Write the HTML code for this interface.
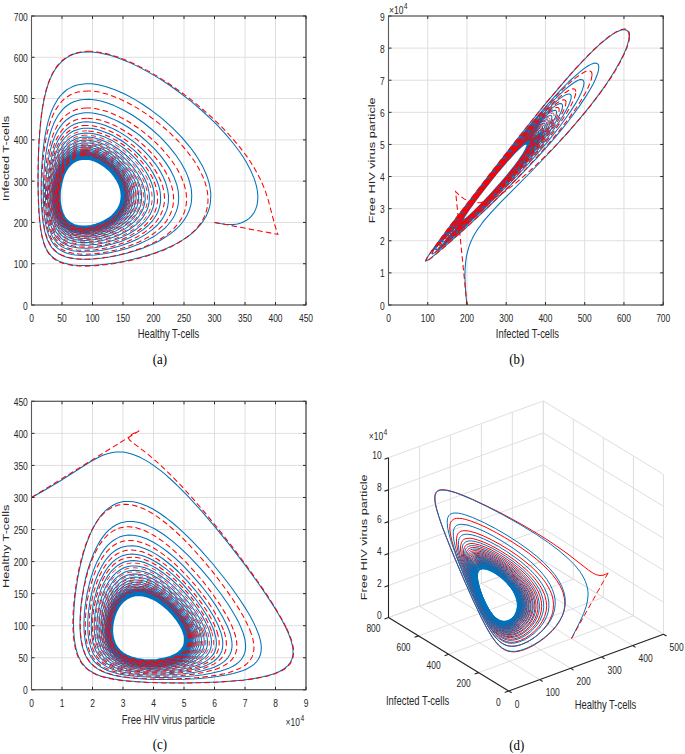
<!DOCTYPE html><html><head><meta charset="utf-8"><style>html,body{margin:0;padding:0;background:#fff}svg{display:block}</style></head><body>
<svg width="685" height="754" viewBox="0 0 685 754">
<rect width="685" height="754" fill="#fff"/>
<path d="M31.5 16V305M62 16V305M92.5 16V305M123 16V305M153.5 16V305M184 16V305M214.5 16V305M245 16V305M275.5 16V305M306 16V305M31.5 305H306M31.5 263.71H306M31.5 222.43H306M31.5 181.14H306M31.5 139.86H306M31.5 98.57H306M31.5 57.29H306M31.5 16H306" stroke="#dfdfdf" stroke-width="1" fill="none"/>
<g><path d="M214.5 222.4l5.5 1.2 5 .7 4.5 .3 4.2-.2 3.7-.5 3.4-.9 3-1.2 2.7-1.5 2.4-1.7 2.1-2 1.8-2.2 1.6-2.4 1.2-2.6 1-2.8 .7-3 .4-3.2 .1-3.3-.1-3.5-.5-3.6-.7-3.7-1.1-3.9-1.3-4-3.6-8.4-4.7-8.7-2.8-4.5-3-4.6-7-9.2-7.9-9.4-8.8-9.4-4.7-4.6-9.8-9.1-10.4-8.8-10.7-8.4-10.8-7.8-10.8-7.1-10.7-6.3-10.3-5.5-9.9-4.7-9.3-3.7-8.7-2.9-8.1-1.9-3.8-.7-7-.7-3.3-.1-6.1 .4-2.7 .5-5.2 1.3-4.5 2-4.1 2.4-3.5 2.9-3.1 3.2-2.8 3.6-2.4 3.8-2.1 4-1.8 4.1-1.6 4.3-2 6.6-2.1 9-1.6 8.9-1.5 11.1-1 10.8-.9 12.3-.6 15.4-.3 15.8 0 14.1 .4 12.6 .5 11.2 .9 9.8 1.1 8.6 1.3 6.7 1.7 6 2.1 5.1 2.3 4 2.4 2.9 2.3 2.2 3.2 2.3 3.2 1.6 4.4 1.7 4.2 1 4.9 .8 5.5 .5 6.2 .2 7.1-.2 7.9-.6 7-.7 9.5-1.4 8.2-1.5 8.7-1.9 6.9-1.8 7-2 7.2-2.3 7.3-2.7 4.9-2 7.1-3.4 4.7-2.5 4.6-2.7 4.4-2.9 4.1-3.2 4-3.5 5.2-5.6 3-4.1 2.6-4.4 2-4.7 .9-2.5 1.2-5.1 .3-2.7 .3-5.6-.1-2.8-.8-6-.7-3.1-1.8-6.3-1.2-3.2-3-6.6-1.8-3.4-4-6.7-2.2-3.4-5-6.8-8.6-10.1-9.6-9.8-10.4-9.2-10.9-8.4-7.4-5.1-7.3-4.6-10.7-5.8-10.3-4.6-9.6-3.3-6-1.4-5.6-.9-2.6-.3-5 0-4.6 .4-4.3 .8-1.9 .6-3.7 1.5-3.4 1.8-3 2.1-2.7 2.5-2.5 2.6-2.2 2.9-2.8 4.7-1.7 3.2-2.2 5.1-1.8 5.3-1.6 5.3-1.6 7.3-1.7 9-1.1 8.8-.9 8.6-.8 11.5-.4 10.8-.2 11.3 .2 10.3 .5 9.4 .6 7.4 .9 6.7 1.1 6.1 1.4 5.4 1.7 4.8 2.2 4.3 2.1 3.3 2.1 2.4 2.5 2.1 2.7 1.9 3.2 1.6 3.6 1.3 4.1 1.1 4.6 .7 4.1 .4 5.8 .2 5.1-.1 6.9-.4 6.1-.7 6.6-1 7-1.3 13.2-3.2 12-3.9 10.2-4.1 6.1-2.9 4-2.2 7.6-4.9 3.6-2.7 3.4-2.9 3.2-3.2 2.8-3.3 2.6-3.6 2.2-3.8 1.9-4 .7-2.2 1.2-4.3 .4-2.3 .4-4.7 0-2.5-.3-5-.4-2.6-1.3-5.2-.8-2.8-2-5.4-1.3-2.8-4.6-8.5-5.7-8.5-6.8-8.4-7.6-8.2-8.4-7.7-8.7-7-6-4.3-6-3.9-8.9-5.1-8.7-4.1-8.2-3.1-5.2-1.5-5-1-6.9-.7-4.2 .1-3.9 .4-3.6 .9-3.4 1.1-3.1 1.5-2.8 1.7-2.6 2-2.3 2.2-2.1 2.4-2.9 3.9-2.4 4.2-2.1 4.4-1.8 4.6-1.5 4.7-1.7 6.4-1.6 7.9-1.3 7.9-.9 7.7-.7 8.9-.5 8.5-.2 9.2 .1 8.6 .3 7.9 .5 7.3 .8 6.6 1.1 6 1.4 5.3 1.4 4.2 1.8 3.7 2 3.4 2 2.5 2.2 2.2 2.6 2 2.3 1.3 3.2 1.5 2.9 1 4.1 1 3.5 .5 5 .5 4.4 .1 9.9-.5 11.5-1.5 11.2-2.4 10.3-2.9 10.6-3.9 8.9-4.2 5.2-2.9 3.4-2.1 6.3-4.7 2.9-2.6 2.7-2.8 2.5-3 2.3-3.2 1.9-3.3 1.6-3.6 1.2-3.7 .9-3.9 .5-6.2-.4-6.5-1.5-6.9-2.6-7.1-3.5-7.2-4.6-7.3-5.4-7.2-6.2-7-6.8-6.6-7.2-6.3-5-3.8-5.1-3.5-7.6-4.7-5-2.7-5-2.4-7.2-2.8-4.5-1.4-4.4-1-4.2-.6-3.9-.3-3.8 0-3.4 .4-3.3 .7-3 .9-2.8 1.2-2.6 1.5-2.4 1.7-3.2 2.8-1.9 2.2-2.6 3.4-1.6 2.4-2 3.9-1.8 4-1.5 4.1-1.7 5.6-1.4 5.6-1.4 7.1-1 6.9-.9 8.1-.5 7.8-.3 7.3 0 8.1 .2 6.4 .5 7 .8 6.3 .9 5 1.3 5.2 1.5 4.1 1.6 3.7 2 3.3 2 2.4 1.7 1.8 2.4 2 2.2 1.4 3.1 1.5 2.7 1 3 .8 3.3 .6 7.4 .7 8.8-.2 10.1-1.1 9.9-1.9 10.6-3 9.5-3.5 7.9-3.6 7.6-4.5 5.7-4.2 5.2-4.7 2.3-2.6 2.1-2.8 1.8-2.9 1.6-3.1 1.4-3.2 1-3.4 .8-5.4 .1-5.7-.8-5.9-1.7-6.2-2.5-6.3-3.4-6.4-2.7-4.3-3-4.2-5.1-6.2-3.8-4-3.9-3.9-6.2-5.4-8.7-6.5-6.7-4.2-4.4-2.4-4.3-2.1-6.4-2.6-4-1.3-4-1-3.7-.7-3.6-.4-3.5-.1-3.2 .2-3 .5-2.8 .8-2.7 .9-3.6 1.9-2.2 1.5-3 2.5-1.8 1.9-2.5 3-3.4 5.6-1.7 3.6-1.5 3.7-1.7 5.1-1.4 5.1-1.1 5.1-1.1 6.4-.8 6.2-.7 7.3-.3 6.9-.1 6.6 .5 12 .6 6.2 .8 4.9 1.1 4.5 1.3 4.1 1.5 3.7 1.9 3.4 1.8 2.5 1.6 1.8 1.8 1.6 2 1.5 2.2 1.3 2.4 1.1 2.6 1 2.9 .8 6.6 1 7.7 .2 7.7-.5 8.6-1.4 9.3-2.2 8.5-2.7 8.6-3.6 7-3.7 6.7-4.5 4.9-4.1 4.3-4.7 1.9-2.6 1.7-2.7 1.5-2.8 1.2-3 1.3-4.7 .5-3.2 .1-3.4-.3-5.4-.6-3.6-1-3.7-2.1-5.7-2.9-5.8-3.5-5.8-4.2-5.6-6.4-7.3-5.3-5.1-7.6-6.1-5.8-4.1-7.9-4.6-5.8-2.7-7.5-2.7-3.5-.9-3.4-.7-3.3-.3-3.2-.1-2.9 .1-2.8 .4-2.7 .7-3.6 1.3-2.3 1.1-3.1 2.1-1.8 1.5-2.6 2.6-2.3 2.8-2 3-1.7 3.2-1.6 3.4-1.7 4.6-1.5 4.7-1.2 4.8-1.2 5.9-1.5 11.6-.6 11.9 0 6 .2 5.6 .5 5.3 .7 4.9 .9 4.6 1.2 4.1 1.4 3.8 1.7 3.4 2.7 3.9 3.4 3.4 2 1.4 2.2 1.2 2.3 1.1 2.6 .9 5.9 1.3 6 .4 6.9-.1 7.6-.9 8.3-1.7 9-2.6 7.8-3 6.6-3.2 6.3-3.9 5.8-4.6 4.2-4.2 3.5-4.7 1.5-2.5 1.3-2.7 1.5-4.2 .7-2.9 .4-3.1 .1-4.8-.3-3.3-.6-3.3-1.5-5.2-2.1-5.3-1.8-3.5-2-3.5-3.6-5.2-5.6-6.7-4.6-4.8-6.7-5.8-5.3-3.9-7.1-4.5-7.1-3.5-6.9-2.5-6.4-1.5-3.1-.4-4.3-.1-5.3 .6-2.4 .6-3.4 1.3-2.1 1.1-2.8 1.9-1.8 1.4-2.4 2.4-3.4 4.5-1.7 3-1.6 3.1-1.7 4.2-1.5 4.4-2.2 8.9-1 5.5-.7 5.5-.8 11.3 0 5.8 .2 5.5 .4 5.1 .7 4.8 .8 4.4 1.2 4 1.4 3.7 1.3 2.8 2.6 3.9 3.3 3.4 3.9 2.6 4.1 1.8 5.5 1.4 5.5 .6 6.3 0 7.1-.7 7.7-1.4 7-2 7.3-2.6 7.3-3.4 5.9-3.5 5.6-4.1 4-3.8 3.5-4.3 2.8-4.7 1.6-3.8 .8-2.7 .6-2.8 .4-4.4-.1-3-.3-3.1-1-4.7-1-3.3-1.2-3.2-2.4-4.9-3-4.9-4.7-6.3-5.5-6-6-5.5-4.8-3.7-6.5-4.3-6.6-3.5-6.4-2.6-6.1-1.6-2.9-.5-4.1-.3-5.1 .3-2.4 .5-3.3 1-2 .9-2.9 1.6-1.7 1.3-2.4 2.1-2.1 2.4-1.9 2.6-3.3 5.6-1.7 4-1.5 4.1-2.2 8.4-1.5 9.4-.9 10.9 0 10 .4 5 .6 4.7 .8 4.3 .8 3.4 1.3 3.7 1.3 2.8 2.4 4 3 3.4 3.6 2.7 3.8 1.9 4.4 1.4 5.1 .8 5.7 .2 6.5-.4 7.1-1.1 6.5-1.6 6.7-2.2 6.9-3 5.7-3 5.4-3.7 4.9-4.2 3.4-3.9 2.9-4.3 2.2-4.7 1.4-5.2 .5-4-.2-5.7-.8-4.5-1.9-6-2.1-4.6-2.6-4.6-4.1-5.9-5-5.7-5.4-5.3-4.4-3.5-6-4.2-6.1-3.5-6.1-2.6-5.7-1.7-2.8-.6-4-.5-4.9 .1-2.3 .3-3.3 .9-2 .7-2.8 1.4-1.7 1.1-2.4 1.9-2.2 2.2-1.9 2.3-3.3 5.2-1.7 3.7-1.5 3.9-2.3 7.9-1.7 9-.9 9.6-.1 9.7 .6 8.8 .7 4.4 .8 3.4 1.1 3.7 1.2 2.8 2.2 4.1 2.4 3.1 3.3 2.9 3.4 2.1 4 1.5 4.7 1 5.2 .5 5.9-.1 6.5-.8 7.1-1.5 6.3-2 6.5-2.6 5.4-2.8 5.1-3.2 4.8-3.9 3.5-3.5 2.9-4 2.4-4.3 1.7-4.7 .9-5 0-5.4-.5-4.1-1.6-5.7-1.8-4.4-2.2-4.3-3.7-5.6-4.4-5.5-5-5-4-3.5-5.6-4.1-5.7-3.5-5.7-2.7-5.5-1.9-2.7-.6-3.9-.7-4.8-.1-2.2 .2-3.2 .6-2 .6-2.8 1.2-4.1 2.6-2.2 1.9-2 2.1-3.3 4.8-1.4 2.6-1.6 3.6-2.5 7.5-1.9 8.6-1 8.4-.4 8.8 .3 8.9 1.2 7.9 1 3.8 .9 2.9 2 4.3 2.1 3.2 3 3.1 3.1 2.3 3.6 1.8 4.2 1.2 4.8 .7 4.5 .2 5.9-.4 6.5-1 6.9-1.8 6.1-2.2 6.2-2.8 5-3 4.7-3.4 3.4-3.2 3.1-3.6 2.6-3.9 1.9-4.3 1.3-4.6 .5-5-.3-5.2-1.2-5.3-1.4-4.1-1.9-4.1-3.2-5.5-4-5.2-4.5-4.9-4.9-4.5-5.2-4-5.4-3.4-5.4-2.6-5.3-1.9-2.5-.7-3.7-.7-2.4-.2-3.4 0-2.1 .2-3 .6-1.9 .6-2.7 1.1-3.9 2.6-3.4 3.2-3.3 4.4-1.4 2.5-1.6 3.4-2.6 7.2-1.9 8.2-1.1 8.1-.4 8.6 .3 8.6 1.2 7.7 1.7 6.1 1.8 4.2 2 3.2 2.9 3.1 2.9 2.3 3.5 1.8 4 1.3 4.5 .8 4.4 .2 5.6-.3 6.2-.9 5.6-1.4 5.8-1.9 5.9-2.6 4.8-2.7 4.6-3.2 4.2-3.7 3-3.4 2.5-3.7 2-4 1.4-4.4 .6-4.7-.1-4.9-1-5.1-1.2-4-1.7-3.9-2.9-5.2-3.5-5-4.2-4.8-4.6-4.4-4.9-3.9-5.1-3.3-5.1-2.7-5-2-6.1-1.6-2.3-.3-3.3-.1-2.1 .1-3 .4-4.5 1.5-3.9 2.3-3.4 2.9-3.3 4.2-1.5 2.3-1.6 3.2-2.4 6-1.9 7-1.3 7.9-.7 8.5 .1 8.6 .9 7.7 1.5 6.2 1.7 4.3 1.8 3.3 2.3 2.9 2.6 2.4 3.2 2 3.6 1.5 4.2 1 4 .5 5.2 0 5.7-.6 6.1-1.3 5.6-1.7 5.6-2.2 4.7-2.4 4.5-2.9 4.2-3.3 3.8-3.9 2.6-3.5 2-3.8 1.5-4.1 .9-4.5 .1-4.6-.6-4.9-1-3.7-1.9-5-2.7-5-3.3-4.9-3.9-4.6-4.3-4.2-4.7-3.8-4.8-3.3-4.9-2.7-4.9-2-5.8-1.6-5.5-.6-4.9 .5-4.4 1.3-3.9 2-3.4 2.8-3.3 3.9-1.5 2.2-1.6 3.1-2.4 5.7-1.9 6.8-1.4 7.7-.7 8.2 0 7.7 .7 7 1.3 6.2 1.5 4.4 1.7 3.4 2.1 3 2.5 2.5 2.9 2.1 3.4 1.6 4 1.1 4.4 .7 5 .1 5.4-.5 5.9-1.2 5.4-1.5 5.4-2.2 4.5-2.2 4.4-2.7 4.1-3.2 3.7-3.7 2.6-3.3 2.1-3.6 1.6-3.9 .9-4.2 .3-4.5-.4-4.6-.8-3.6-1.6-4.8-2.4-4.8-3-4.8-3.6-4.5-4.1-4.2-4.3-3.7-4.6-3.3-4.7-2.8-4.7-2.1-5.7-1.8-5.3-.8-5 .2-4.4 1.1-3.9 1.8-3.4 2.5-3.4 3.6-1.4 2.1-1.8 2.9-2.4 5.5-2 6.6-1.4 6.7-.8 7.3-.2 7.6 .5 7.1 1.1 6.3 1.3 4.5 1.6 3.5 1.9 3.1 2.2 2.6 2.8 2.3 3.1 1.8 3.6 1.3 4.2 .8 4.6 .3 5.2-.3 5.6-.9 5.1-1.2 5.2-1.9 5.3-2.4 4.3-2.5 4-2.9 3.7-3.5 2.7-3 2.2-3.4 1.7-3.7 1.2-4 .5-4.2-.1-4.5-.8-4.6-1.5-4.6-2.1-4.7-2.8-4.6-3.3-4.4-3.9-4.1-4.1-3.7-4.4-3.3-4.5-2.8-4.5-2.1-5.6-1.9-5.2-.9-4.9 0-4.3 .8-3.9 1.7-3.4 2.3-3.5 3.4-2.8 4.1-2.6 5.2-2.1 6.4-1.5 6.4-1 7.2-.3 7.6 .3 7 1 6.4 1.3 4.5 1.4 3.5 1.8 3.1 2.2 2.8 2.5 2.2 3.1 1.9 3.4 1.4 4 .9 4.4 .4 5-.1 5.4-.8 4.8-1.1 5.1-1.7 5.1-2.2 4.2-2.4 4.1-2.7 3.7-3.3 2.6-2.9 2.8-4 1.7-3.6 1.2-3.9 .6-4.1 0-4.3-.7-4.4-1.4-4.5-2-4.6-2.7-4.4-3.1-4.3-3.7-4-3.9-3.7-4.3-3.2-4.3-2.8-4.4-2.2-5.4-1.9-5.1-1-4.8-.1-4.3 .8-3.8 1.5-3.4 2.1-3.4 3.3-2.9 3.9-2.6 5.1-2 5.4-1.5 6.3-1.1 7-.5 6.8 .2 7.1 .8 6.4 1.2 4.6 1.3 3.6 1.6 3.2 2.1 2.8 2.4 2.4 2.8 1.9 3.3 1.6 3.7 1 4.2 .6 4.7 0 5.2-.5 4.7-1 4.9-1.5 5-2 4.9-2.5 4-2.7 3.6-3 2.7-2.8 2.8-3.9 1.8-3.4 1.3-3.7 .8-3.9 .1-4.2-.5-4.3-1.1-4.4-1.8-4.4-2.4-4.3-2.9-4.3-3.4-4-3.7-3.6-4.1-3.3-5.2-3.5-4.3-2.1-5.2-2-5-1-4.7-.1-4.3 .7-3.8 1.4-3.3 2-3.4 3.2-2.8 3.8-2.6 4.9-2 5.3-1.6 6.1-1.1 7-.5 6.6 .2 6.3 .7 6.4 1 4.6 1.3 3.6 1.6 3.2 1.9 2.9 2.4 2.4 2.7 2 3.2 1.6 3.6 1.1 4.1 .6 4.5 .1 5-.5 4.6-.9 4.8-1.3 4.8-1.9 4.9-2.5 3.9-2.5 3.6-2.9 3.3-3.4 2.7-3.8 1.7-3.4 1.3-3.6 .7-3.8 .1-4.1-.5-4.2-1.1-4.3-1.7-4.3-2.3-4.2-2.9-4.2-3.3-3.9-3.6-3.6-3.9-3.2-5.2-3.3-4.1-2.1-5.1-1.9-4.9-1-4.6-.2-4.1 .7-3.8 1.4-3.3 2-3.3 3.1-2.8 3.6-2.3 4.1-2 5.1-1.7 6.1-1.2 6.8-.5 6.6 .1 6.2 .6 6.4 1 4.6 1.2 3.6 1.6 3.2 1.9 2.9 2.2 2.4 2.7 2.1 3.1 1.6 3.5 1.1 4 .7 4.4 .1 4.9-.4 4.4-.8 4.7-1.3 4.7-1.8 4.8-2.3 3.8-2.4 3.6-2.9 3.3-3.2 2.7-3.7 1.8-3.3 1.3-3.5 .8-3.7 .2-4-.4-4.1-.9-4.2-1.6-4.2-2.2-4.2-2.6-4-3.2-3.9-3.5-3.6-3.7-3.2-5-3.4-4.1-2.1-5-2-4.8-1.1-4.6-.3-4.1 .5-3.7 1.2-3.4 1.9-3.4 2.9-2.8 3.5-2.3 4-2.1 5-1.7 5.9-1.2 6-.6 6.6-.1 6.2 .6 6.4 .9 4.6 1.1 3.7 1.4 3.3 1.8 2.9 2.2 2.5 2.5 2.1 3 1.7 3.4 1.2 3.8 .8 4.3 .2 4.7-.2 5-.9 4.6-1.2 4.7-1.8 4.7-2.2 3.7-2.4 3.6-2.7 3.2-3.2 2.7-3.6 1.8-3.1 1.4-3.5 .8-3.6 .3-3.9-.3-4-.8-4.1-1.5-4.1-2-4.1-2.6-4-3-3.8-3.3-3.6-3.7-3.2-4.8-3.4-4-2.2-4.9-2-4.8-1.3-4.5-.3-4.1 .4-3.8 1.1-3.3 1.7-2.9 2.3-3 3.3-2.7 4.5-2.2 4.8-1.6 5.1-1.2 5.9-.8 6.6-.1 6.2 .4 5.8 .7 4.7 1 3.7 1.3 3.4 1.7 3.1 2 2.6 2.4 2.2 2.8 1.8 3.2 1.4 3.6 .9 4.1 .5 4.5-.1 4.9-.7 5.1-1.2 4.6-1.6 4.6-2.1 3.8-2.2 3.5-2.6 3.3-3.1 2.8-3.4 1.9-3 1.8-4.2 .8-3.6 .4-3.7-.2-3.9-.8-4.1-1.4-4-1.9-4.1-2.5-3.9-2.9-3.8-3.2-3.5-3.6-3.2-4.7-3.4-3.9-2.2-4.9-2.1-4.7-1.3-4.4-.4-4.1 .3-3.7 1-3.4 1.7-2.9 2.2-2.9 3.2-2.5 3.7-2.2 4.7-1.7 5-1.4 5.8-.8 6.5-.3 6.2 .3 5.8 .7 4.7 .9 3.8 1.3 3.5 1.6 3 1.9 2.7 2.3 2.3 2.7 1.9 3.1 1.4 3.5 1 3.9 .6 4.4 0 4.8-.6 5.1-1.1 4.5-1.5 4.5-2 3.7-2.1 3.6-2.5 3.2-2.8 2.9-3.3 2-3 1.9-4 1-3.4 .5-3.7-.1-3.8-.6-3.9-1.1-4-1.8-4-2.8-4.9-2.8-3.7-3.2-3.5-3.5-3.2-4.6-3.3-3.8-2.3-4.8-2.1-4.7-1.3-4.4-.5-4 .3-3.7 1-3.3 1.6-2.9 2.1-3 3.1-2.5 3.6-2.2 4.7-1.7 4.9-1.4 5.7-.8 5.7-.4 6.2 .3 5.8 .6 4.8 .9 3.8 1.3 3.9 1.6 3.1 1.9 2.7 2.3 2.3 2.6 1.8 3.1 1.5 3.5 1 3.9 .5 4.3 0 4.7-.5 5-1.1 4.5-1.5 4.5-2 3.6-2 3.5-2.5 3.3-2.8 2.8-3.3 1.9-2.8 1.9-4 1-3.4 .5-3.6 0-3.8-.6-3.9-1.1-3.9-1.7-3.9-2.8-4.9-2.8-3.6-3.1-3.4-3.4-3.2-4.5-3.3-3.8-2.2-4.7-2.1-4.6-1.3-4.3-.5-4.1 .2-3.6 .9-3.3 1.5-2.9 2.1-3 3.1-2.4 3.5-2 3.9-1.8 4.9-1.4 5.6-.9 5.7-.4 6.2 .1 5.8 .6 4.7 .8 3.9 1.3 4 1.5 3.1 1.9 2.7 2.2 2.3 2.5 1.9 3 1.5 3.4 1.1 3.9 .6 4.2 .1 4.6-.5 4.9-1 4.4-1.4 4.4-1.9 3.6-1.9 3.5-2.4 3.3-2.7 2.9-3.2 2.4-3.5 1.8-3.9 1-3.4 .5-3.6 0-3.7-.6-3.8-1.1-3.9-1.7-3.9-2.1-3.8-2.6-3.7-3-3.4-3.3-3.2-4.4-3.4-3.7-2.3-4.6-2.2-4.6-1.4-4.3-.7-4.1 0-3.7 .8-3.4 1.4-2.9 1.9-2.6 2.4-2.6 3.4-2.1 3.7-1.9 4.7-1.5 4.9-1.1 5.7-.5 5.5-.1 5.9 .3 4.3 .7 4.6 1.1 4.2 1.3 3.3 1.9 3.3 2 2.5 2.5 2 2.8 1.7 3.2 1.2 3.6 .8 4 .3 4.4-.2 4.8-.8 4.3-1.1 4.3-1.7 4.4-2.1 3.5-2.2 3.3-2.6 3-2.9 2.6-3.4 2-3.7 1.2-3.3 .7-3.4 .2-3.6-.5-4.7-1-3.9-1.5-3.8-2-3.8-2.5-3.6-2.8-3.5-3.2-3.2-4.3-3.5-3.6-2.3-4.6-2.3-4.5-1.6-4.4-.8-4.1-.1-3.7 .6-3.4 1.3-3 1.8-2.6 2.3-2.7 3.2-2.1 3.7-2 4.6-1.5 4.8-1.2 5.6-.6 5.5-.2 5.3 .2 4.3 .6 4.7 1.1 4.2 1.2 3.4 1.8 3.4 1.9 2.6 2.3 2.1 2.7 1.8 3.6 1.5 3.5 .8 4 .4 4.3-.2 4.7-.7 4.2-1.1 4.3-1.6 4.3-2 4.2-2.6 3.2-2.6 3-2.9 2.5-3.4 2-3.7 1.1-3.2 .7-3.4 .2-3.6-.6-4.7-1-3.8-1.5-3.8-2-3.7-2.4-3.6-2.9-3.4-3.1-3.1-4.3-3.5-3.6-2.3-4.5-2.2-3.6-1.3-4.3-1-4.1-.1-3.8 .5-3.4 1.1-3 1.7-2.7 2.2-2.7 3.2-2.2 3.5-2.1 4.6-1.5 4.7-1.2 5.5-.7 5.5-.2 5.3 .1 4.3 .6 4.7 1 4.3 1.2 3.3 1.7 3.4 1.9 2.6 2.3 2.2 2.6 1.8 3 1.4 3.5 .9 3.8 .5 4.2 0 4.6-.6 4.8-1.2 4.3-1.5 4.3-2 4.1-2.5 3.3-2.5 2.9-2.9 2.6-3.2 2-3.7 1.2-3.1 .7-3.4 .3-3.5-.4-4.6-.9-3.7-1.4-3.8-1.9-3.7-2.4-3.6-2.7-3.4-3.1-3.2-4.2-3.4-3.5-2.4-3.6-1.9-3.5-1.5-4.4-1.2-3.3-.4-3.9 .2-2.9 .5-3.3 1.3-2.9 1.8-2.6 2.3-2.2 2.7-2.2 3.5-1.8 3.9-1.3 4-1.2 4.8-.8 4.8" stroke="#0072BD" stroke-width="1.05" fill="none" stroke-linejoin="round"/><path d="M214.5 222.4l63.4 12-3.1-9.4-6.6-25.1-2.7-8.3-1.6-4.2-3.8-8.7-4.7-8.8-5.6-9.2-3.2-4.6-7.2-9.4-8.1-9.6-8.9-9.5-9.7-9.4-10.4-9.2-10.7-8.9-11-8.3-11.2-7.8-11-7.1-10.9-6.3-10.4-5.4-10-4.5-9.4-3.7-8.7-2.7-8.1-1.8-3.8-.6-7-.6" stroke="#FF0000" stroke-width="1.05" fill="none" stroke-dasharray="5.5 3.2"/><path d="M90.1 51.3l-3.3 0-6 .6-2.7 .5-5.1 1.5-2.3 1-4.2 2.3-3.7 2.8-3.3 3.1-2.9 3.5-2.5 3.8-2.1 4-1.9 4.1-1.7 4.3-2.1 6.6-2.7 11.2-1.5 9-1.4 11.2-1 10.7-.9 12.4-.5 13.5-.3 15.9 0 14.3 .4 14.1 .5 9.9 .7 8.9 .9 7.9 1.2 7 1.5 6.2 1.7 4.8 2 4.3 2.5 3.7 2.5 2.7 3.1 2.4 3.5 2.1 4.3 1.7 4.9 1.3 4.8 .8 6.6 .5 6.3 .2 8.7-.3 8.1-.7 9-1.1 7.8-1.3 8.3-1.6 8.8-2 9.2-2.5 7-2.3 11.9-4.4 7-3.2 4.6-2.4 6.6-4 4.2-2.9 3.9-3.1 3.7-3.4 3.4-3.6 2.9-3.9 2.6-4.2 1.1-2.2 1.8-4.6 1.2-4.8 .7-5.1 .1-2.7-.3-5.5-.4-2.9-1.3-5.8-.9-3-2.3-6.2-1.5-3.1-3.3-6.4-4.1-6.4-7.2-9.7-8.4-9.6-9.4-9.3-10-8.6-10.5-7.9-10.6-7-10.5-5.9-10-4.7-9.5-3.5-8.7-2.2-5.4-.9-5.1-.3" stroke="#FF0000" stroke-width="1.05" fill="none" stroke-dasharray="5.5 3.2"/><path d="M88.6 90.9l-6.8 .4-4.1 .8-3.8 1.2-3.4 1.5-3.1 1.9-2.9 2.1-2.5 2.4-2.3 2.7-2.1 2.8-1.8 2.9-2.5 4.7-2 4.9-1.8 5.1-2.7 10.3-1.3 6.9-1.3 8.5-1 8.3-.8 9.6-.5 10.6-.2 9.9 0 9.1 .4 9.5 .5 7.6 .7 6.9 1 6.2 1.3 5.6 1.6 5 1.7 3.9 1.9 3.4 2.3 3.1 2.7 2.6 2.7 2 2.9 1.7 3.5 1.4 3.8 1.1 4.4 .9 4.9 .5 4.4 .3 6-.1 5.3-.3 7.3-.7 6.2-.9 6.7-1.2 7-1.5 7.4-2 5.7-1.7 5.8-2 5.8-2.3 9.6-4.6 5.5-3.1 3.6-2.4 3.4-2.5 3.3-2.7 3-2.9 2.8-3.1 2.5-3.2 2.2-3.5 1.9-3.7 1.4-3.9 1.4-6.3 .4-4.4-.1-2.3-.3-4.6-.4-2.4-1.9-7.4-3.1-7.7-4.2-7.9-5.3-7.8-6.3-7.8-4.6-5-4.9-4.9-7.8-7-8.2-6.4-8.4-5.7-5.5-3.3-5.5-2.9-8.1-3.7-5.1-1.9-5-1.5-6.9-1.5-4.4-.5-4.1-.1" stroke="#FF0000" stroke-width="1.05" fill="none" stroke-dasharray="5.5 3.2"/><path d="M86.5 107.9l-3.8 .3-3.6 .6-3.3 .9-3 1.2-2.8 1.5-2.6 1.7-2.4 1.9-2.1 2.1-2 2.3-2.6 3.7-1.6 2.6-2 4.1-1.8 4.3-1.5 4.4-1.3 4.4-1.5 6-1.1 5.9-1.2 7.4-.8 7.1-.7 8.3-.3 7.9-.2 8.6 .2 8 .4 7.4 .7 6.7 .8 5.3 1 4.8 1.2 4.4 1.5 4.1 1.8 3.6 2.1 3.2 2.1 2.4 2.8 2.5 2.7 1.8 3.1 1.5 3.5 1.3 3.9 1 4.4 .7 4.9 .4 4.3 0 5.9-.2 5.2-.5 6.9-.9 5.9-1.1 6.2-1.5 6.4-1.7 6.6-2.2 5.1-2 5-2.1 5-2.5 4.9-2.8 3.1-2 4.5-3.4 2.9-2.4 2.6-2.5 2.5-2.8 2.2-2.9 2-3.1 1.6-3.2 1.4-3.4 1-3.6 .7-3.8 .3-5.9-.6-6.2-1.6-6.5-2.5-6.6-3.5-6.8-4.3-6.8-5.1-6.7-5.8-6.5-6.4-6.1-6.7-5.8-7-5.2-7.1-4.5-4.8-2.7-4.6-2.3-6.8-2.8-6.5-2.1-6.1-1.3-3.8-.4-3.6-.2" stroke="#FF0000" stroke-width="1.05" fill="none" stroke-dasharray="5.5 3.2"/><path d="M86.8 118.2l-3.5 .2-3.2 .5-3 .7-2.8 1-2.6 1.3-2.4 1.4-2.2 1.7-3 2.7-1.8 2.1-2.4 3.3-3.4 6-1.7 3.8-1.4 3.9-2.7 9.3-1.2 5.4-1.1 6.6-.8 6.6-.7 7.5-.3 7.2-.1 6.8 .1 6.4 .4 7 .6 5.5 .8 5.1 1 4.6 1.2 4.3 1.6 3.9 1.4 2.9 2.1 3.2 2 2.3 2.3 2.1 2.6 1.8 2.9 1.6 3.3 1.3 3.7 1 4.2 .7 4.6 .4 4 0 5.4-.2 4.8-.4 10.3-1.7 5.6-1.3 5.8-1.6 5.9-2 4.5-1.7 4.5-2 4.5-2.2 7.2-4.4 4.1-3 2.6-2.1 4.7-4.8 2-2.6 1.9-2.7 1.6-2.9 1.4-3.1 1.1-3.2 .7-3.3 .5-3.4 .1-3.6-.4-5.6-1.3-5.8-2.1-6-2.9-6-3.6-6.1-4.3-6-5-5.8-5.4-5.5-5.8-5.2-6.1-4.7-6.2-4.2-8.3-4.7-6.1-2.7-4-1.5-3.8-1.1-5.5-1.2-3.5-.4-3.3-.2" stroke="#FF0000" stroke-width="1.05" fill="none" stroke-dasharray="5.5 3.2"/><path d="M86.9 125.4l-3.1 .2-3 .3-2.7 .7-3.9 1.3-2.3 1.2-2.2 1.4-2 1.5-2.8 2.6-1.6 1.8-2.3 3.1-3.2 5.4-2.9 7.1-2.6 8.6-1.1 4.9-1.1 6.2-1.3 11.8-.4 6.8-.1 6.4 .1 6.1 .3 5.6 .6 5.3 .8 4.9 1 4.4 1 3.5 1.5 3.8 1.5 2.8 2 3.1 2 2.3 2.2 2 2.5 1.8 2.9 1.5 2.5 1 3.5 1 3.1 .7 4.2 .4 3.7 .2 5-.1 4.4-.3 9.4-1.5 5.1-1.1 5.3-1.5 9.5-3.3 8.2-3.9 6.7-3.9 6.1-4.6 3.4-3.2 2.1-2.3 3.6-4.9 1.5-2.7 1.2-2.8 1-2.9 .8-3.1 .5-3.2 .2-3.2-.4-5.1-1-5.3-1.7-5.5-2.4-5.5-3.1-5.5-3.8-5.4-4.3-5.4-6.4-6.7-5.2-4.6-5.5-4.3-5.6-3.7-7.5-4.2-5.5-2.5-7.1-2.4-5-1.1-6.2-.6" stroke="#FF0000" stroke-width="1.05" fill="none" stroke-dasharray="5.5 3.2"/><path d="M87 130.8l-2.9 .1-2.8 .4-2.6 .5-3.6 1.2-4.3 2.3-1.9 1.3-2.6 2.4-3.8 4.4-3.1 5-3 6.6-2.5 7.9-1.1 4.6-1.1 5.8-1.4 11.2-.5 11.4 .1 5.8 .3 5.5 1.1 9 1 4.4 1 3.4 1.4 3.7 1.4 2.8 1.6 2.6 1.9 2.3 2.1 2 1.9 1.5 2.6 1.6 2.3 1.1 3.2 1.1 2.8 .7 6.4 .8 7.4 0 8.4-.9 9.3-1.9 8.7-2.6 7.6-3.1 6.3-3.3 6-3.9 5.6-4.5 3-3.1 1.8-2.2 3.1-4.8 1.2-2.6 1.1-2.7 .8-2.7 .6-3 .3-3 0-3-.4-4.8-1.1-5-1.8-5-2.3-5.1-4.1-6.8-3.7-5-5.6-6.3-4.7-4.4-6.5-5.4-5.1-3.5-6.9-4-5.1-2.3-6.5-2.4-6.2-1.3-5.8-.5" stroke="#FF0000" stroke-width="0.85" fill="none" stroke-dasharray="5 3.7"/><path d="M86.3 135.1l-5.2 .5-2.4 .5-3.4 1.1-2.1 1-2.8 1.8-1.8 1.3-2.4 2.3-3.5 4.3-1.7 2.8-1.6 3-2.6 6.2-2.3 7.5-1.9 9.8-1.2 10.4-.3 10.7 .2 5.4 .4 5.1 1.4 8.4 1 4 1.1 3.1 1.6 3.5 1.5 2.5 1.7 2.4 2 2 2.3 1.9 2.5 1.5 2.8 1.3 2.5 .9 3.4 .8 3 .5 4.1 .3 3.5 0 4.7-.3 4.1-.5 8.6-1.7 4.6-1.3 4.7-1.6 4.8-1.9 3.5-1.6 7-4 5.4-4 4.9-4.6 2.6-3.1 1.5-2.2 1.9-3.5 1.1-2.5 1.5-5.3 .4-2.7 .2-2.9-.1-2.9-.3-3.1-1-4.6-1.6-4.7-2.1-4.8-2.7-4.7-3.2-4.7-3.7-4.5-4-4.3-4.3-4-4.6-3.7-4.7-3.4-4.7-2.9-4.8-2.4-4.6-2-4.6-1.4-4.3-1-5.5-.5" stroke="#FF0000" stroke-width="0.85" fill="none" stroke-dasharray="5 3.7"/><path d="M86.8 138.6l-5 .3-2.3 .5-3.2 1-3.9 1.8-1.8 1.2-2.4 2-3.5 3.8-1.9 2.5-1.6 2.8-2.7 5.7-2.4 7.1-2.1 9.3-1.2 9-.5 10.4 .3 9.5 1.1 8.4 1.7 6.7 1.1 3 1.3 2.7 1.6 2.5 1.7 2.2 1.9 2 1.8 1.4 4 2.4 4.8 1.7 5.6 1 6.5 .3 7.4-.6 7-1.3 7.6-2.1 6.7-2.5 6.7-3.2 5.3-3.4 5-3.9 4.5-4.5 3-4.1 2.4-4.5 1.6-4.9 .8-5.2 0-4.1-.8-5.8-1.2-4.4-1.8-4.4-3.1-6-2.9-4.4-4.6-5.6-3.8-4-5.4-4.9-5.8-4.3-5.9-3.7-5.9-2.8-5.8-2-5.4-1.3-5.1-.4" stroke="#FF0000" stroke-width="0.85" fill="none" stroke-dasharray="5 3.7"/><path d="M86.2 141.5l-4.7 .4-2.2 .4-3 1-1.9 .8-2.7 1.5-3.8 3.1-3.3 3.8-3.2 5.1-2.5 5.5-2.2 6.8-1.9 8.8-1.1 8.7-.4 9 .4 9.1 1.1 8 1.7 6.4 1.2 2.9 1.3 2.6 1.5 2.3 1.8 2.2 1.9 1.9 1.8 1.3 4 2.2 2.9 1.1 2.5 .6 5.7 .8 6.5 0 7.3-.8 6.9-1.5 7.3-2.4 6.3-2.7 6.3-3.4 4.9-3.5 4.5-4.1 3.8-4.6 2.5-4.2 1.8-4.5 1-4.9 .3-5.1-.4-4.1-.9-4.1-1.3-4.2-1.9-4.3-3.2-5.6-2.9-4-4.5-5.3-3.6-3.6-5.3-4.5-5.5-3.9-5.6-3.2-4.1-1.9-5.4-1.9-5.2-1.1-4.8-.4" stroke="#FF0000" stroke-width="0.85" fill="none" stroke-dasharray="5 3.7"/><path d="M85.9 144l-4.4 .3-2.1 .4-2.9 .9-1.8 .8-2.6 1.5-3.7 2.9-3.1 3.6-3.1 4.9-2.8 6.2-2.1 6.4-1.8 8.5-1 9.1-.3 8.6 .5 8.6 1.3 7.6 1.9 6 1.2 2.6 1.4 2.4 1.6 2.2 1.5 1.6 2 1.8 1.8 1.2 2.4 1.4 2.2 .9 3 .9 2.6 .5 3.5 .4 3 .1 4.1-.2 3.4-.3 7.4-1.4 6.9-2.1 7.1-2.9 5.9-3.2 4.8-3.2 4.3-3.9 3.8-4.3 1.8-2.9 1.1-2.1 1.7-4.3 .9-3.5 .3-2.4 0-5-.5-3.8-1-4-1.4-4-1.9-4.1-2.3-4-2.8-3.8-3-3.8-4.6-4.7-3.6-3.3-3.9-2.9-3.9-2.6-5.3-2.9-3.9-1.8-5.1-1.6-3.7-.8-4.6-.4" stroke="#FF0000" stroke-width="0.85" fill="none" stroke-dasharray="5 3.7"/><path d="M86.1 146.1l-4.3 .2-2 .4-2.8 .8-4.2 2.1-3.7 2.8-3.1 3.3-3 4.7-2.4 5-2.2 6.2-1.9 8.1-1.1 8-.4 8.5 .3 7.7 .9 7 1.6 6.2 1.1 2.8 1.2 2.5 1.4 2.3 1.6 2.1 3.1 2.9 3.7 2.2 4.3 1.7 5.1 .9 5.8 .3 6.5-.6 6.3-1.1 6.6-2 5.8-2.3 5.7-2.9 4.6-3 4.3-3.6 3.7-4 2.5-3.6 1.6-3 .8-2.1 1.3-4.3 .5-4.7-.1-3.6-.9-5-1.1-3.9-1.6-3.8-2.7-5.1-2.5-3.8-3.9-4.8-3.2-3.3-4.6-4.2-4.9-3.6-5-3.1-5.1-2.4-4.9-1.7-4.7-1-4.4-.4" stroke="#FF0000" stroke-width="0.85" fill="none" stroke-dasharray="5 3.7"/><path d="M85.7 147.9l-4.1 .3-4.6 1.1-4.1 2-3.5 2.7-3 3.2-2.9 4.5-2.4 4.8-1.8 5.1-1.8 7-1.2 7.8-.5 7.5 .1 7.7 .7 7 1.2 5.7 2 5.5 2.5 4.2 2.7 3.1 2.8 2.2 3.8 2 3.9 1.3 4.4 .7 5 .2 5.5-.4 5-.9 6.3-1.6 5.6-2 5.5-2.7 4.5-2.7 4.3-3.2 3-3 3.4-4.1 2.2-3.7 1.6-4 1-4.2 .4-4.6-.4-4.7-1.1-4.9-1.9-4.9-2.6-4.9-3.2-4.8-3.8-4.5-4.2-4.3-4.5-3.7-6-4-4.8-2.5-5.9-2.3-4.5-1-5.4-.4" stroke="#FF0000" stroke-width="0.85" fill="none" stroke-dasharray="5 3.7"/><path d="M84.9 149.5l-4.8 .5-4.3 1.4-3.7 2.1-3.3 2.8-3.2 3.9-2.7 4.5-2.1 4.8-1.8 5.9-1.6 7.6-.8 7.4-.2 7.8 .4 7.2 1.1 6.4 1.6 5.1 1.1 2.5 1.3 2.4 2.8 3.6 1.8 1.7 1.7 1.2 3.7 2 4.4 1.3 5.1 .7 5.7 0 6.4-.9 6-1.4 6.2-2.2 5.4-2.5 5.2-3.1 4.1-3.2 3.6-3.6 3.1-4.2 1.9-3.6 1.1-3 .6-2 .6-4.3 0-4.5-.5-3.5-.9-3.5-1.3-3.6-1.7-3.6-2.8-4.6-2.5-3.4-3.8-4.3-3-3-4.4-3.7-4.6-3.1-4.6-2.5-3.5-1.6-4.5-1.5-4.3-.8-4-.3" stroke="#FF0000" stroke-width="0.85" fill="none" stroke-dasharray="5 3.7"/><path d="M84.9 150.8l-3.8 .4-4.3 1.1-3.1 1.5-3.3 2.4-2.9 3-2.4 3.4-2.1 3.7-2 4.7-1.7 5.7-1.3 6.6-.8 6.4-.3 6.9 .3 6.5 .8 5.9 1.3 5.2 1.6 4.2 2.4 4 2.6 3 3.2 2.4 3.8 1.8 4.4 1.2 4.4 .6 5.7-.1 5.4-.7 5.8-1.4 6-2.1 6.1-2.9 5-3.1 4.6-3.8 3.4-3.7 2.7-4.2 1.7-3.7 1.2-3.9 .5-4.2-.2-4.4-.8-4.5-1-3.5-2-4.6-2.6-4.5-3.2-4.4-3.7-4.1-4-3.8-4.3-3.4-4.4-2.8-4.5-2.3-4.4-1.7-4.2-1.1-5.1-.5" stroke="#FF0000" stroke-width="0.85" fill="none" stroke-dasharray="5 3.7"/><path d="M85.4 152l-3.7 .2-4.2 1.1-3.8 1.7-3.2 2.4-2.8 2.9-2.8 4-2.3 4.4-1.7 4.7-1.8 6.4-1.1 6.4-.5 6.9 0 7.3 .6 6.6 1.2 5.4 1.7 4.7 2.2 4 2.2 2.7 2.6 2.3 3 1.8 3.5 1.4 3.9 .9 4.5 .4 4.9-.2 4.6-.6 4.8-1.1 5-1.6 5-2.2 4.2-2.2 4-2.7 3.7-3.2 3.3-3.6 2.2-3.2 2.1-4.4 1.2-3.8 .5-4.1-.1-4.3-.7-4.4-1.4-4.4-2.1-4.5-3.3-5.5-3.3-4.1-4.7-4.8-4.1-3.4-5.3-3.6-4.3-2.2-5.4-2.1-4.1-.9-4.8-.4" stroke="#FF0000" stroke-width="0.85" fill="none" stroke-dasharray="5 3.7"/><path d="M84.8 153.1l-4.5 .4-3.9 1.2-3.5 2-3.1 2.4-3.1 3.6-2.5 4.1-2.3 5.2-1.7 5.4-1.5 7.1-.7 6.9-.2 7.2 .6 6.7 1.1 6 1.6 4.7 1.1 2.4 1.3 2.1 2.9 3.4 1.8 1.5 1.7 1.1 3.7 1.7 4.9 1.2 5 .4 5.6-.3 6.2-1.1 6.4-2 5.8-2.6 4.8-2.8 4.5-3.4 3.4-3.4 2.8-3.8 2.3-4.2 1.2-3.7 .7-4.9-.1-4.2-.7-4.3-.9-3.2-1.3-3.3-1.7-3.3-1.9-3.2-2.3-3.1-2.5-2.9-3.7-3.7-2.9-2.5-3.1-2.3-3.1-2-4.2-2.2-3.1-1.3-4.1-1.3-3-.6-3.7-.2" stroke="#FF0000" stroke-width="0.85" fill="none" stroke-dasharray="5 3.7"/><path d="M84.9 154l-4.4 .4-3.9 1.2-3.5 1.8-3 2.4-3 3.5-2.5 4-2 4.3-1.8 5.3-1.4 6.1-.9 6.9-.3 7.2 .4 6.7 1 6 1.5 4.8 2 4.2 2.6 3.5 2.8 2.6 3.4 2 4 1.4 4.5 .7 5.2 .1 5-.5 5.3-1.1 5.6-1.8 4.8-2.1 4.8-2.7 4.4-3.3 3.4-3.2 2.8-3.7 1.9-3.2 1.7-4.4 .7-3.8 .2-4-.2-3.1-.9-4.3-1.1-3.2-1.4-3.2-2.3-4.2-2.2-3-3.2-3.9-2.6-2.7-3.8-3.3-4-2.9-4.1-2.4-4.1-1.9-4-1.4-3.9-.8-3.7-.2" stroke="#FF0000" stroke-width="0.85" fill="none" stroke-dasharray="5 3.7"/><path d="M84.7 154.8l-4.2 .4-3.8 1.2-3.4 1.8-3 2.3-2.5 2.8-2.6 3.9-2 4.2-1.9 5.1-1.4 6.1-1 6.7-.4 6.5 .2 6 .7 5.6 1.3 5 1.7 4.4 2.4 3.7 2.6 2.8 2.6 2 3.2 1.5 3.5 1.1 4 .6 4.5 .1 4.8-.4 5.3-1.1 4.6-1.4 4.8-2 4.6-2.5 3.8-2.5 3.4-3 3.1-3.4 2.5-3.8 1.6-3.3 1-3.6 .6-3.8 0-4-.7-4.1-1.2-4.1-1.8-4.2-2.3-4.1-2.9-4-3.2-3.7-3.6-3.4-3.9-3-4.9-3.1-4-1.9-4-1.5-3.8-.8-4.5-.4" stroke="#FF0000" stroke-width="0.85" fill="none" stroke-dasharray="5 3.7"/><path d="M84.5 155.5l-3.4 .3-3.8 1.1-3.4 1.6-3 2.3-2.6 2.7-2.6 3.7-2 4-1.9 5.1-1.5 5.9-1 5.9-.5 6.5 .1 6 .7 5.6 1.1 5.1 1.7 4.4 1.9 3.4 2.1 2.6 2.4 2.2 2.9 1.7 3.3 1.4 3.7 .8 4.2 .4 4.6-.2 4.3-.6 4.4-1.1 4.7-1.5 4.6-2.1 3.8-2.1 3.6-2.6 3.4-3 2.9-3.3 2-3.1" stroke="#FF0000" stroke-width="0.85" fill="none" stroke-dasharray="5 3.7"/></g>
<path d="M31.5 305v-3M31.5 16v3M62 305v-3M62 16v3M92.5 305v-3M92.5 16v3M123 305v-3M123 16v3M153.5 305v-3M153.5 16v3M184 305v-3M184 16v3M214.5 305v-3M214.5 16v3M245 305v-3M245 16v3M275.5 305v-3M275.5 16v3M306 305v-3M306 16v3M31.5 305h3M306 305h-3M31.5 263.71h3M306 263.71h-3M31.5 222.43h3M306 222.43h-3M31.5 181.14h3M306 181.14h-3M31.5 139.86h3M306 139.86h-3M31.5 98.57h3M306 98.57h-3M31.5 57.29h3M306 57.29h-3M31.5 16h3M306 16h-3" stroke="#262626" stroke-width="1" fill="none"/>
<path d="M31.5 16H306V305H31.5" stroke="#3a3a3a" stroke-width="1.1" fill="none"/>
<path d="M31.5 15.45V305.55" stroke="#595959" stroke-width="1.1" fill="none"/>
<text transform="translate(31.5,321.8) scale(0.785,1)" font-family="'Liberation Sans', sans-serif" font-size="10.8" text-anchor="middle" fill="#262626">0</text>
<text transform="translate(62,321.8) scale(0.785,1)" font-family="'Liberation Sans', sans-serif" font-size="10.8" text-anchor="middle" fill="#262626">50</text>
<text transform="translate(92.5,321.8) scale(0.785,1)" font-family="'Liberation Sans', sans-serif" font-size="10.8" text-anchor="middle" fill="#262626">100</text>
<text transform="translate(123,321.8) scale(0.785,1)" font-family="'Liberation Sans', sans-serif" font-size="10.8" text-anchor="middle" fill="#262626">150</text>
<text transform="translate(153.5,321.8) scale(0.785,1)" font-family="'Liberation Sans', sans-serif" font-size="10.8" text-anchor="middle" fill="#262626">200</text>
<text transform="translate(184,321.8) scale(0.785,1)" font-family="'Liberation Sans', sans-serif" font-size="10.8" text-anchor="middle" fill="#262626">250</text>
<text transform="translate(214.5,321.8) scale(0.785,1)" font-family="'Liberation Sans', sans-serif" font-size="10.8" text-anchor="middle" fill="#262626">300</text>
<text transform="translate(245,321.8) scale(0.785,1)" font-family="'Liberation Sans', sans-serif" font-size="10.8" text-anchor="middle" fill="#262626">350</text>
<text transform="translate(275.5,321.8) scale(0.785,1)" font-family="'Liberation Sans', sans-serif" font-size="10.8" text-anchor="middle" fill="#262626">400</text>
<text transform="translate(306,321.8) scale(0.785,1)" font-family="'Liberation Sans', sans-serif" font-size="10.8" text-anchor="middle" fill="#262626">450</text>
<text transform="translate(27.8,309.6) scale(0.785,1)" font-family="'Liberation Sans', sans-serif" font-size="10.8" text-anchor="end" fill="#262626">0</text>
<text transform="translate(27.8,268.31) scale(0.785,1)" font-family="'Liberation Sans', sans-serif" font-size="10.8" text-anchor="end" fill="#262626">100</text>
<text transform="translate(27.8,227.03) scale(0.785,1)" font-family="'Liberation Sans', sans-serif" font-size="10.8" text-anchor="end" fill="#262626">200</text>
<text transform="translate(27.8,185.74) scale(0.785,1)" font-family="'Liberation Sans', sans-serif" font-size="10.8" text-anchor="end" fill="#262626">300</text>
<text transform="translate(27.8,144.46) scale(0.785,1)" font-family="'Liberation Sans', sans-serif" font-size="10.8" text-anchor="end" fill="#262626">400</text>
<text transform="translate(27.8,103.17) scale(0.785,1)" font-family="'Liberation Sans', sans-serif" font-size="10.8" text-anchor="end" fill="#262626">500</text>
<text transform="translate(27.8,61.89) scale(0.785,1)" font-family="'Liberation Sans', sans-serif" font-size="10.8" text-anchor="end" fill="#262626">600</text>
<text transform="translate(27.8,20.6) scale(0.785,1)" font-family="'Liberation Sans', sans-serif" font-size="10.8" text-anchor="end" fill="#262626">700</text>
<text transform="translate(168.5,338.2) scale(0.74,1)" font-family="'Liberation Sans', sans-serif" font-size="12.75" text-anchor="middle" fill="#262626">Healthy T-cells</text>
<text transform="translate(9.2,158.6) scale(0.74,1) rotate(-90)" font-family="'Liberation Sans', sans-serif" font-size="12.75" text-anchor="middle" fill="#262626">Infected T-cells</text>
<text transform="translate(159.8,363.7) scale(0.885,1)" font-family="'Liberation Serif', serif" font-size="14.5" text-anchor="middle" fill="#000">(a)</text>
<path d="M388.5 16V305M427.74 16V305M466.99 16V305M506.23 16V305M545.47 16V305M584.71 16V305M623.96 16V305M663.2 16V305M388.5 305H663.2M388.5 272.89H663.2M388.5 240.78H663.2M388.5 208.67H663.2M388.5 176.56H663.2M388.5 144.44H663.2M388.5 112.33H663.2M388.5 80.22H663.2M388.5 48.11H663.2M388.5 16H663.2" stroke="#dfdfdf" stroke-width="1" fill="none"/>
<g><path d="M467 305l-1.2-11-.6-9.6-.3-8.3 .2-7.3 .5-6.4 .8-5.8 1.2-5.2 1.4-4.8 1.6-4.4 1.9-4.1 2.1-3.9 2.3-3.8 5.2-7.2 2.8-3.5 6.1-7.1 10.3-10.9 32.4-32.7 17.7-18.5 17.7-19.4 8.5-9.9 8.2-9.9 7.7-9.7 7.1-9.5 6.4-9.1 8.1-12.7 4.4-7.7 3.6-7 2.7-6.2 1.1-2.8 1.4-4.9 .5-2.2 .3-3.7-.4-2.7-1-2-.8-.6-1.8-.8-2.3 0-2.8 .7-4.7 2.2-3.5 2.2-3.7 2.7-7.9 6.4-10.4 9.9-12.8 13.3-14.7 16.7-18 21.4-20 24.8-34.4 44-38.6 50.3-18.8 25.4-4.6 6.8-1.8 3.4 0 .8 .6 0 3.1-1.8 6.4-5.2 9.2-7.8 14.1-12.4 13.4-12.2 14.3-13.3 13.7-13.1 18.2-18.2 19.3-20.4 15.9-18 8.9-10.7 5.6-7.1 10.1-13.6 8.2-12.3 3.3-5.6 2.8-5.1 2.2-4.6 2.2-5.8 .9-3.2 .3-3.7-.4-1.7-.3-.6-1.1-.9-.6-.2-1.6-.1-2.9 .8-3.6 1.8-4 2.7-4.4 3.4-6.3 5.5-5 4.7-6.8 6.9-6.8 7.3-8.6 9.6-18.2 21.4-26.4 32.7-33.4 42.8-25.8 34.3-6.8 9.6-3.3 5.3-.5 1.2 0 .7 .5 .1 .8-.3 3.1-2.1 5.6-4.5 18.8-16.5 23.2-21.7 18.6-18.3 15.7-16 16.2-17.6 13-15.1 11.9-14.8 8.1-11.2 3.5-5.2 4.6-7.2 2.5-4.4 2.9-5.8 1.4-3.3 1.3-4.2 .3-3-.5-2-.3-.5-1-.5-2-.1-2.5 .9-3.1 1.7-4.7 3.3-5.3 4.4-5.6 5.2-5.9 5.9-13.6 14.7-16.3 18.9-24.1 29.6-27.5 35-24.1 31.9-7 9.7-3.9 6.1-1 2.3 .1 .5 .4 .1 2.2-1.2 3.7-2.8 14-12.1 19.3-17.9 16.8-16.5 15.2-15.4 13.7-14.7 13.7-15.5 8.5-10.4 5.9-7.5 5.3-7.3 4.8-6.7 3.9-6.3 3.2-5.5 2.4-4.8 2-5.1 .5-2.9 0-1.4-.4-1-.6-.6-.9-.3-1.2 .1-1.4 .4-3.3 1.7-4.1 2.8-4.5 3.8-6.2 5.7-11.8 12.2-13.4 15.1-16.6 19.9-18.1 22.5-23.9 30.7-17.6 23.7-4.8 6.8-2.6 4.3-.6 1.2-.1 .8 .4 .2 .7-.2 2.4-1.5 4-3.2 12.4-10.9 16.4-15.4 16.8-16.6 13.5-14 12.1-13.2 12-13.7 9.2-11.3 9.6-12.9 4-5.8 4.3-7 2.4-4.5 1.8-3.8 1.1-3.1 .4-3-.4-1.4-.6-.5-.8-.2-1 0-1.2 .4-3 1.6-3.6 2.5-4 3.4-9 8.5-12.1 12.9-14.5 16.8-16.7 20.4-18.1 22.9-18.6 24.2-12 16.6-3 4.6-1.5 2.8 0 .7 .3 .2 1.7-.7 3.1-2.3 4.2-3.5 12.3-11.2 14.9-14.3 14.2-14.2 12.3-12.9 11-12.1 10.7-12.4 8.2-10.2 8.5-11.5 3.6-5.2 3.8-6.3 2.2-4 1.6-3.5 1-2.8 .5-2.7-.3-1.3-.5-.5-.7-.2-2 .4-2.6 1.4-3.2 2.2-3.7 3-3.9 3.6-5.3 5.2-11.2 11.9-13.4 15.6-15.7 19-16.9 21.4-16.8 22-11 15.3-2.8 4.4-1.2 2.4-.1 .7 .2 .2 1.6-.6 2.5-1.8 3.7-3 11-10 13.4-12.8 14.3-14.4 11.2-11.8 11.7-13 9.8-11.4 7.5-9.4 7.8-10.6 3.3-4.8 3.5-5.7 2.1-3.7 1.9-4.2 .8-2.4 .3-2.3-.3-1.1-.5-.4-.7-.1-1.9 .5-2.5 1.3-3 2.2-3.4 2.8-8.6 8.3-10.4 11.2-12.6 14.5-14.8 18-16.7 21.2-15.2 19.9-9.6 13.5-2.6 4-1.2 2.5-.2 .7 .2 .3 .6-.1 .9-.5 2.3-1.6 3.5-2.8 10.3-9.4 12.5-12 13.2-13.4 10.5-11.1 10.8-12 9.1-10.7 8.4-10.4 7.2-9.8 6.2-9.7 2-3.5 1.8-3.8 .7-2.3 .3-2.1-.1-.8-.4-.4-.5-.3-.7 0-1.9 .6-2.4 1.4-2.8 2.1-3.3 2.8-8.1 7.9-10.9 11.8-11.9 13.8-13.8 17-15.7 20-13.6 17.9-9 12.7-2.2 3.6-1 2 0 .6 .3 .2 1.3-.6 2.3-1.6 3.4-2.8 9.3-8.4 11.7-11.3 12.3-12.6 11.2-11.9 10.1-11.3 8.5-10.1 7.8-9.8 7.7-10.5 5.5-8.8 1.7-3.1 1.4-3.4 .6-1.9 .1-1.8-.2-.6-.4-.4-1.3 0-1.8 .7-2.4 1.5-5.8 4.8-7.8 7.7-10.3 11.2-11.3 13.2-13.2 16.2-14.9 19.1-12.9 17.1-8.1 11.5-2 3.2-.9 2 0 .5 .3 .2 1.3-.5 5.5-4.4 9.8-8.9 11.5-11.3 11.9-12.2 10.7-11.5 9.6-10.9 7.9-9.5 7.2-9.2 6.9-9.8 5-8 1.4-2.8 1.3-3 .4-1.8 0-1.5-.2-.5-.5-.3-1.2 .1-1.9 .8-2.2 1.5-5.7 4.8-7.4 7.4-9.9 10.8-10.8 12.6-13.4 16.5-13.5 17.3-11.9 15.8-7.5 10.8-2 3.2-.9 2-.1 .6 .3 .2 1.2-.5 5.4-4.2 9.3-8.6 10.9-10.7 11.4-11.7 10.1-11 9.1-10.3 8.7-10.5 6.8-8.8 6.4-9.1 4.6-7.5 1.3-2.6 1.1-2.8 .5-2-.3-1.2-.8-.5-1.4 .3-1.9 1-2.3 1.7-5.5 4.8-7.3 7.3-9.5 10.5-11.2 13.3-12.7 15.7-12.7 16.4-11 14.8-6.6 9.6-1.8 2.9-.6 1.6 0 .4 .2 .2 1.3-.5 5.2-4.2 9.1-8.4 10.6-10.5 10.9-11.3 9.7-10.6 8.7-9.9 8.3-10.1 6.5-8.3 6.1-8.7 4.4-7.2 2.3-5.1 .4-2-.2-1.1-.8-.5-1.3 .3-1.8 .9-2.1 1.6-5.3 4.6-7 7-9.1 10.1-10.8 12.8-12.4 15.3-12.3 15.9-10.4 13.9-6.5 9.5-1.8 2.9-.6 1.6-.1 .5 .3 .2 1.1-.5 5.1-4 8-7.4 9.9-9.8 10.3-10.7 9.3-10 9.5-10.8 8-9.7 6.2-8 6-8.5 4.3-7 2.4-5.1 .5-2-.1-1.2-.7-.5-1.1 .1-1.7 .8-2 1.4-5.7 4.9-6.7 6.8-8.9 9.9-10.4 12.4-11.3 13.9-12.1 15.7-10.2 13.6-6.2 9.1-1.8 2.9-.8 1.7-.1 .6 .2 .2 1-.3 4.7-3.7 8.3-7.6 10.5-10.5 10.2-10.6 8.9-9.8 9.2-10.6 7.6-9.3 5.9-7.7 5.6-8 3.9-6.5 2.1-4.7 .3-1.8-.2-1-.7-.4-1.2 .3-1.7 .9-2 1.4-5.6 5-6.5 6.7-8.7 9.6-10.1 12-11.6 14.5-11.6 15-9.6 13-5.8 8.5-1.6 2.7-.5 1.4 .1 .4 .2 .1 1.1-.5 4.9-3.9 7.8-7.2 10.3-10.4 9.9-10.3 8.7-9.6 7.8-9 7.4-9 6.6-8.7 5.4-7.7 3.7-6.3 2-4.5 .3-1.7-.2-1-.7-.3-1.2 .3-1.6 .9-1.9 1.4-5.5 4.8-6.4 6.5-8.3 9.4-10 11.7-11.3 14.1-11.3 14.8-9 12.2-5.8 8.4-1.6 2.7-.6 1.5 .1 .4 .2 .1 1.1-.4 4.7-3.8 7.5-6.9 10-10.1 9.6-10 8.4-9.3 7.6-8.7 7.2-8.9 6.5-8.4 5.3-7.6 3.7-6.2 1.4-2.8 .8-2.2 .3-1.5-.3-.9-.7-.3-1.2 .4-1.6 .9-1.9 1.4-5.4 4.8-6.2 6.4-8.2 9.1-9.7 11.6-10.4 12.9-11.2 14.6-8.9 12.1-5.8 8.4-1.4 2.4-.7 1.6 0 .5 .1 .2 1-.4 4.4-3.4 7.7-7.2 9.8-9.8 9.3-9.8 8.2-9.1 8.4-9.7 7-8.6 6.2-8.1 4.9-7.3 3.5-5.9 1.3-2.6 .7-2 .2-1.4-.4-.7-.8-.2-1.2 .4-3.6 2.5-5.3 4.8-6.1 6.3-8 9.1-9.5 11.3-10.8 13.5-10.8 14-8.5 11.7-5.2 7.6-1.4 2.3-.5 1.5 0 .4 .2 .1 1.1-.4 4.5-3.7 7.3-6.7 8.8-8.9 10-10.5 8-8.9 8.1-9.5 6.9-8.4 6-7.9 4.8-7.1 3.8-6.5 1.6-3.8 .1-1.3-.3-.8-.8-.1-1.2 .4-3.4 2.3-5.2 4.7-6 6.2-7.9 8.9-9.3 11.1-10.6 13.3-10.6 13.8-8.5 11.5-5 7.5-1.3 2.3-.6 1.4 .2 .5 1-.3 4.3-3.5 7-6.5 8.5-8.5 9.7-10.2 8.8-9.8 8-9.3 6.7-8.2 5.8-7.8 4.7-6.9 3.7-6.2 1.5-3.7 .1-1.3-.3-.8-.8-.1-1.2 .4-3.4 2.4-5.1 4.6-5.9 6.1-8.4 9.5-9.2 11-10.3 13-9.9 12.9-8.3 11.3-5 7.4-1.2 2.2-.5 1.4 0 .3 .2 .1 1-.4 4.4-3.5 7-6.6 8.5-8.5 9.6-10.1 8.7-9.7 7.8-9.2 6.5-8 5.6-7.6 4.6-6.7 3.4-6 1.4-3.5 .1-1.3-.3-.6-.8-.1-1.2 .4-3.4 2.4-5 4.6-5.8 6.1-8.4 9.4-9 10.8-10.2 12.8-9.7 12.7-7.8 10.6-5 7.4-1.3 2.3-.5 1.4 .2 .4 .9-.3 4.3-3.4 6.9-6.4 8.3-8.3 9.3-10 8.6-9.4 7.7-9 6.3-8 5.7-7.5 4.5-6.6 3.5-6 1.5-3.6 .2-1.3-.3-.7-.8-.1-1.1 .3-1.4 .9-2.3 1.8-5 4.6-5.8 6-7.5 8.5-8.9 10.7-10.2 12.7-9.6 12.6-7.8 10.6-5 7.4-1.3 2.2-.5 1.4 .2 .5 .9-.3 4.2-3.3 6.7-6.3 8.1-8.2 9.3-9.7 8.3-9.4 7.6-8.8 6.3-7.8 5.6-7.4 4.5-6.6 3.5-6 1.5-3.6 .2-1.3-.2-.7-.7-.2-1.1 .3-1.4 .8-2.2 1.7-4.9 4.5-5.6 5.9-7.5 8.3-8.8 10.6-10 12.6-9.6 12.5-7.8 10.5-5 7.4-1.3 2.2-.5 1.5 .2 .4 .9-.3 4.1-3.2 6.6-6.2 8.8-8.9 9.3-9.8 7.3-8.2 7.5-8.8 7.1-8.7 5.3-7.3 4.3-6.3 3.3-5.7 1.3-3.4 .1-1.1-.3-.7-.7 0-1.2 .4-3.7 2.6-4.9 4.6-5.6 5.9-7.4 8.3-8.7 10.5-9.9 12.4-9.4 12.3-7.6 10.3-4.6 6.9-1.3 2.2-.5 1.4 .2 .5 .8-.3 4.2-3.3 6.6-6.1 8.7-8.8 9.1-9.7 7.3-8.1 7.3-8.7 7-8.6 5.3-7.1 4.2-6.3 3.3-5.6 1.3-3.4 .1-1.1-.3-.6-.8-.1-1.1 .4-3.6 2.6-4.8 4.5-5.6 5.8-7.3 8.2-8.6 10.4-9.8 12.3-9.4 12.2-7.5 10.3-4.6 6.7-1.3 2.3-.5 1.2 0 .5 .2 .1 .9-.3 4.2-3.3 6.5-6.1 7.9-8 8.9-9.5 8.1-9 7.3-8.5 6.8-8.5 5.2-7.1 4.2-6.1 3.2-5.6 1.3-3.2 .1-1.2-.3-.6-.8 0-1.1 .4-3.5 2.6-4.8 4.4-5.6 5.8-7.2 8.1-8.5 10.2-9.7 12.2-9.3 12.2-7.5 10.1-4.5 6.8-1.2 2.2-.5 1.2 .1 .5 .8-.2 3.6-2.8 6.2-5.7 8.3-8.3 8.7-9.2 7.9-8.8 7.2-8.5 6.9-8.4 5.2-7 4.3-6.2 3.3-5.7 1.5-3.8 .1-1.1-.3-.5-.8-.1-1 .4-3.6 2.6-4.8 4.4-5.5 5.8-7.8 8.8-8.4 10.2-9 11.3-9.2 12-7.4 10.1-4.4 6.6-1.3 2.2-.4 1.2 .1 .5 .9-.3 3.7-2.8 6.1-5.8 8.3-8.3 8.7-9.2 7.8-8.8 7.2-8.3 6.7-8.4 5.2-6.9 5.1-7.6 1.9-3.4 1.3-2.7 .6-1.9-.2-1-.7-.3-1.4 .5-1.8 1.2-2.2 1.8-6 5.8-7.5 8.2-8.5 9.9" stroke="#0072BD" stroke-width="1.05" fill="none" stroke-linejoin="round"/><path d="M467 305l-11.4-113.4 4.6 4.4 4.3 3.1 4.2 2 4 1.2 4 .5 3.9-.2 3.9-.8 3.9-1.2 3.9-1.7 4-2 4-2.4 4.1-2.7 8.3-6.2 12.9-10.9 8.9-8.1 9-8.7 13.6-13.9 9-9.6 8.7-9.9 8.4-9.8 8-9.9 7.4-9.6 6.7-9.3 6-8.8 5.1-8.4 4.3-7.6 3.5-7 2.6-6.1 1.7-5.3 .6-2.3 .5-4" stroke="#FF0000" stroke-width="1.05" fill="none" stroke-dasharray="5.5 3.2"/><path d="M629.6 36.4l-.2-3.1-.3-1.2-1.1-1.8-.8-.6-2-.6-1.2 0-2.6 .5-4.6 1.9-5.3 3.3-5.7 4.2-6.1 5.2-6.3 5.8-8.5 8.6-8.6 9.2-8.5 9.5-20.4 24-23.8 29.6-35.6 45.5-39.3 51.3-17.7 24-4.1 6.2-1.4 2.9 0 .4 .3 .2 1.2-.5 2.4-1.5 3.3-2.6 11.3-9.5 14.9-13.3 15.4-14 14.2-13.4 13.5-13.2 14.7-14.8 15.3-16.2 15.2-17.1 11.4-13.7 10.2-13.2 8.6-12.3 3.6-5.6 4.5-7.7 2.3-4.6 2.5-5.9 1.1-3.3 .6-3.8" stroke="#FF0000" stroke-width="1.05" fill="none" stroke-dasharray="5.5 3.2"/><path d="M592 75.2l0-1-.3-1.7-.4-.6-.9-.8-.6-.2-1.5-.1-1.8 .4-2 .8-3.5 2-5.4 3.8-5.9 5-6.2 5.9-6.5 6.5-8.2 8.8-16.2 18.5-19.7 23.7-22.2 28-25.4 32.7-20.8 27.6-6.1 8.4-3.9 5.7-2 3.5-.4 1 0 .5 .5 .2 1.1-.5 4.2-3 7-5.9 8.8-7.7 22.4-20.8 12-11.5 11.2-11.2 14.5-14.9 14.9-16.3 14.4-16.8 10.7-13.6 9-12.6 4.3-6.8 3.5-6 1.8-3.6 2-4.6 1.2-3.7 .2-2.7" stroke="#FF0000" stroke-width="1.05" fill="none" stroke-dasharray="5.5 3.2"/><path d="M575.8 91.6l-.2-1.3-.6-.9-.8-.5-1.2-.1-1.4 .3-1.6 .6-1.9 1-3 2-4.7 3.6-6.4 5.7-6.8 6.7-8.4 8.9-8.5 9.5-9.7 11.4-20.7 25-27.1 34.4-24.5 32.3-8.1 11.4-2.2 3.5-1.1 2.3-.2 .7 .2 .3 1.2-.3 2.3-1.5 3.6-2.8 14.5-12.8 19.4-18.2 18.5-18.4 16.8-17.6 10.7-11.9 10.4-12.1 9.5-12 6.7-9 6.9-10.1 4.9-8.6 1.4-2.9 1.5-3.6 .5-2 .3-2.4" stroke="#FF0000" stroke-width="1.05" fill="none" stroke-dasharray="5.5 3.2"/><path d="M566 102.2l-.1-1.1-.5-.8-.7-.4-1-.1-2.5 .7-4.2 2.5-5.1 3.9-5.7 5.2-6.1 6-7.5 8-7.7 8.5-8.8 10.3-19.9 24.1-24.7 31.4-20.8 27.5-7.5 10.6-1.9 3.2-.8 1.8 0 .6 .2 .1 1.2-.4 2.3-1.5 3.6-2.9 13.2-11.6 17.8-16.9 16.6-16.8 15.1-15.9 9.6-10.6 9.2-10.9 8.6-10.7 7.5-10.1 6-9 4.4-7.5 2.6-5.8 .5-1.8 .3-2.1" stroke="#FF0000" stroke-width="1.05" fill="none" stroke-dasharray="5.5 3.2"/><path d="M559.2 109.7l-.1-1-.4-.7-.6-.5-1.3 0-2.4 .8-3.9 2.5-4.6 3.7-5.3 4.7-5.5 5.6-7 7.4-15.2 17.2-18.5 22.5-22.2 28.2-18.8 24.8-7 10.1-1.8 2.9-1 2-.1 .7 .2 .2 1-.2 2-1.3 3.3-2.5 11.8-10.6 16.1-15.3 15-15 15.3-16.3 8.7-9.7 8.5-10 7.9-9.8 7-9.3 5.7-8.3 4.2-7.1 2.7-5.6 .8-2.6 .3-1.9" stroke="#FF0000" stroke-width="1.05" fill="none" stroke-dasharray="5.5 3.2"/><path d="M554 115.3l-.1-.9-.3-.7-.5-.4-.7-.1-2 .5-3.3 1.9-3.2 2.4-4.6 4-5 4.8-5.3 5.4-12 13.3-13.9 16.4-16.4 20.2-17.3 22.2-12.1 16-7.5 10.6-2.3 3.6-1.1 2.2-.2 1.1 .3 .2 .4-.1 2-1.2 3.5-2.7 11.3-10.1 13.8-13.2 15.3-15.5 11-11.6 11.2-12.6 9.4-11 8.5-10.8 7.1-9.9 5.3-8.4 3.4-6.5 .9-2.5 .4-2.4" stroke="#FF0000" stroke-width="0.85" fill="none" stroke-dasharray="5 3.7"/><path d="M550 119.5l-.1-.8-.6-.7-.9-.2-1.4 .3-2.9 1.5-4.6 3.5-5.3 4.8-5.8 5.7-7.1 7.6-8.2 9.4-13 15.4-13.7 16.9-15.7 20.3-12.6 16.7-6.6 9.4-1.9 3.1-1 2-.1 1 .9 0 1.7-1.1 2.5-1.9 5.8-5 7.7-7.1 17.6-17.2 16.9-17.8 15-16.8 7.1-8.7 5.3-6.7 4.8-6.4 4.1-5.9 3.4-5.3 3.1-5.6 1.5-3.5 .7-3" stroke="#FF0000" stroke-width="0.85" fill="none" stroke-dasharray="5 3.7"/><path d="M546.6 123.4l-.2-1.4-.5-.4-.5-.1-1.7 .3-2.8 1.6-2.8 2.1-3.9 3.4-8.1 7.9-9.6 10.5-11.7 13.5-13.6 16.6-14.1 17.9-12.2 16.1-9 12.4-4.5 6.9-.8 1.9-.1 .5 .2 .3 1.2-.4 2.4-1.7 7.9-6.8 11.6-11 13.6-13.7 12.1-12.7 9.8-10.9 9.7-11.4 7.7-9.6 6.6-9 5.8-8.9 1.9-3.2 1.7-3.6 .8-2.2 .4-2.1" stroke="#FF0000" stroke-width="0.85" fill="none" stroke-dasharray="5 3.7"/><path d="M543.9 126.2l-.3-1.2-.5-.3-.9-.1-1.7 .6-2.8 1.8-3.5 2.7-3.9 3.6-9.7 9.9-12.1 13.7-13.4 16.1-15.6 19.7-14.3 18.9-7.8 10.6-4.2 6.6-.8 1.8 0 .8 .8 0 1.4-.9 6.9-5.7 10.9-10.3 12.4-12.3 12.4-13 9.3-10.3 8-9.2 7.5-9.3 6.7-8.8 5.6-7.9 4-6.7 2.4-5 .6-1.9 .3-1.4" stroke="#FF0000" stroke-width="0.85" fill="none" stroke-dasharray="5 3.7"/><path d="M541.6 128.7l-.1-.7-.4-.6-.8-.2-1.1 .3-2.4 1.2-3.7 2.9-4.5 3.9-5.7 5.8-12.4 13.7-11.4 13.5-12.8 16-13.4 17.2-10.8 14.5-5.8 8.5-1.6 2.7-.8 1.6 0 .8 .8-.1 1.7-1 2.2-1.8 4.8-4.1 6.7-6.3 15.1-15.1 14.4-15.2 12.7-14.5 10.7-13.1 8.6-12 3-4.5 2.7-4.8 1.7-3.7 .6-2.6" stroke="#FF0000" stroke-width="0.85" fill="none" stroke-dasharray="5 3.7"/><path d="M539.6 131l-.3-1.1-.8-.4-1.4 .3-2.4 1.4-3 2.2-3.5 3.1-7.8 7.9-10.2 11.3-11 13.1-12.5 15.5-13 16.7-9.3 12.6-6.2 8.9-1.8 2.9-1 1.9-.1 1 .2 .1 .4 0 1.7-1 2.5-2 7.7-7 11.3-10.9 11.5-11.9 9.4-10.1 8.5-9.7 8.3-9.9 6.5-8.3 5.6-7.7 4.9-7.6 3-5.8 .7-1.9 .3-1.8" stroke="#FF0000" stroke-width="0.85" fill="none" stroke-dasharray="5 3.7"/><path d="M537.8 132.8l-.1-.8-.7-.6-.9 .1-1.5 .7-3.8 2.6-5.3 4.8-6.2 6.3-7.4 8.1-8.2 9.6-8.8 10.7-11.6 14.6-11.8 15.4-8.9 12.3-5 7.5-1 1.9-.1 1 .2 .2 .4-.1 1.1-.6 5-4 8.2-7.6 11.9-11.9 11.8-12.4 10.4-11.7 10.3-12.2 9.1-11.8 6.2-9.1 3.8-6.9 1.1-2.5 .3-2.1" stroke="#FF0000" stroke-width="0.85" fill="none" stroke-dasharray="5 3.7"/><path d="M536.3 134.3l0-.6-.5-.5-.4-.1-.9 .2-2 1-2.6 1.9-6.6 5.9-9.2 9.8-11.2 12.9-12.2 15-13.6 17.5-11.5 15.4-5.2 7.6-2.6 4.5-.3 1 .2 .2 .3 0 1.3-.7 1.9-1.4 7.2-6.3 10.1-9.9 10.4-10.7 10.8-11.8 8-9 6.6-7.9 6.1-7.8 4.5-6.1 4.4-6.5 3.3-5.5 1.9-4.1 .6-2.6" stroke="#FF0000" stroke-width="0.85" fill="none" stroke-dasharray="5 3.7"/><path d="M535.1 135.7l-.4-.9-.8-.2-1.3 .4-2.2 1.4-5.2 4.3-7.1 7.1-8.4 9.3-9.4 11-10.2 12.7-10.9 14-9.7 12.9-6.8 9.6-3.6 5.7-.6 1.5 .1 .6 1.1-.4 1.9-1.3 6.1-5.4 9.2-8.9 10.7-10.9 9.3-10 8.7-9.9 7.6-9 6.9-8.7 5.8-8.1 4.4-6.8 2.7-5.2 .6-1.7 .3-1.6" stroke="#FF0000" stroke-width="0.85" fill="none" stroke-dasharray="5 3.7"/><path d="M533.9 137.2l-.1-.8-.6-.5-.8 .1-1.3 .6-3.4 2.3-4.2 3.7-5.5 5.5-5.9 6.5-14.4 16.9-10.4 13.1-10.8 13.9-9.1 12.3-5.8 8.5-2.2 3.9-.1 .9 .6 .1 3-2.1 5.9-5.2 10.8-10.6 11.9-12.4 11.5-12.7 9.4-11.2 8.5-10.9 6.6-9.5 2.2-3.6 1.9-3.7 .9-2.2 .4-2" stroke="#FF0000" stroke-width="0.85" fill="none" stroke-dasharray="5 3.7"/><path d="M532.9 138.1l-.1-.7-.5-.3-.7 0-.9 .3-2.6 1.6-3.2 2.7-3.7 3.5-4.8 5-11.1 12.4-10.2 12.4-10.6 13.3-10.9 14.4-8.3 11.3-4.1 6.4-1 1.8-.2 1 .1 .2 .3 .1 .9-.5 4.3-3.4 9.9-9.2 12.2-12.6 12-13 10.3-12 9.4-12 6.7-9.5 4.3-7.3 1.3-2.9 .3-1.9" stroke="#FF0000" stroke-width="0.85" fill="none" stroke-dasharray="5 3.7"/><path d="M532 139.2l-.2-.9-.3-.2-.7 0-1.6 .7-2.2 1.5-2.7 2.2-3.6 3.4-7.5 7.9-9.5 10.9-10.6 12.9-11.9 15.2-11.2 14.8-5.6 8-3.2 5.2-.6 1.4 .1 .6 .8-.2 1.3-.8 5.6-4.8 8.3-8 9.6-9.8 9.5-10.2 7-7.9 7-8.3 5.7-7.1 5.1-6.8 4.3-6.1 3.7-6 1.9-3.9 .5-1.5 .3-1.4" stroke="#FF0000" stroke-width="0.85" fill="none" stroke-dasharray="5 3.7"/><path d="M531.3 140l-.3-.8-.7-.2-1.1 .3-1.5 .9-4.6 3.6-5.6 5.5-6.9 7.5-7.9 9.2-9 11-9.5 12-9.1 11.9-7.7 10.5-4.6 6.9-1.2 2.2-.5 1.3 .2 .5 .9-.3 3.9-3.1 6.7-6.1 9-9 9.5-10.1 8.8-9.6 7.9-9.3 7.5-9.2 6.4-8.7 4.8-7.4 3-5.5 .7-1.9 .2-1.4" stroke="#FF0000" stroke-width="0.85" fill="none" stroke-dasharray="5 3.7"/><path d="M530.6 140.7l-.3-.7-.7-.2-1.2 .4-1.5 .9-4.4 3.6-5.5 5.4-6.2 6.6-7.7 9-8.3 10-8.9 11.2-9.3 12.1-7.9 10.8-5 7.3-2.1 3.9 0 .7 .7-.1 3.4-2.4 6-5.5 8.4-8.3" stroke="#FF0000" stroke-width="0.85" fill="none" stroke-dasharray="5 3.7"/></g>
<path d="M388.5 305v-3M388.5 16v3M427.74 305v-3M427.74 16v3M466.99 305v-3M466.99 16v3M506.23 305v-3M506.23 16v3M545.47 305v-3M545.47 16v3M584.71 305v-3M584.71 16v3M623.96 305v-3M623.96 16v3M663.2 305v-3M663.2 16v3M388.5 305h3M663.2 305h-3M388.5 272.89h3M663.2 272.89h-3M388.5 240.78h3M663.2 240.78h-3M388.5 208.67h3M663.2 208.67h-3M388.5 176.56h3M663.2 176.56h-3M388.5 144.44h3M663.2 144.44h-3M388.5 112.33h3M663.2 112.33h-3M388.5 80.22h3M663.2 80.22h-3M388.5 48.11h3M663.2 48.11h-3M388.5 16h3M663.2 16h-3" stroke="#262626" stroke-width="1" fill="none"/>
<path d="M388.5 16H663.2V305H388.5" stroke="#3a3a3a" stroke-width="1.1" fill="none"/>
<path d="M388.5 15.45V305.55" stroke="#595959" stroke-width="1.1" fill="none"/>
<text transform="translate(388.5,321.8) scale(0.785,1)" font-family="'Liberation Sans', sans-serif" font-size="10.8" text-anchor="middle" fill="#262626">0</text>
<text transform="translate(427.74,321.8) scale(0.785,1)" font-family="'Liberation Sans', sans-serif" font-size="10.8" text-anchor="middle" fill="#262626">100</text>
<text transform="translate(466.99,321.8) scale(0.785,1)" font-family="'Liberation Sans', sans-serif" font-size="10.8" text-anchor="middle" fill="#262626">200</text>
<text transform="translate(506.23,321.8) scale(0.785,1)" font-family="'Liberation Sans', sans-serif" font-size="10.8" text-anchor="middle" fill="#262626">300</text>
<text transform="translate(545.47,321.8) scale(0.785,1)" font-family="'Liberation Sans', sans-serif" font-size="10.8" text-anchor="middle" fill="#262626">400</text>
<text transform="translate(584.71,321.8) scale(0.785,1)" font-family="'Liberation Sans', sans-serif" font-size="10.8" text-anchor="middle" fill="#262626">500</text>
<text transform="translate(623.96,321.8) scale(0.785,1)" font-family="'Liberation Sans', sans-serif" font-size="10.8" text-anchor="middle" fill="#262626">600</text>
<text transform="translate(663.2,321.8) scale(0.785,1)" font-family="'Liberation Sans', sans-serif" font-size="10.8" text-anchor="middle" fill="#262626">700</text>
<text transform="translate(384.8,309.6) scale(0.785,1)" font-family="'Liberation Sans', sans-serif" font-size="10.8" text-anchor="end" fill="#262626">0</text>
<text transform="translate(384.8,277.49) scale(0.785,1)" font-family="'Liberation Sans', sans-serif" font-size="10.8" text-anchor="end" fill="#262626">1</text>
<text transform="translate(384.8,245.38) scale(0.785,1)" font-family="'Liberation Sans', sans-serif" font-size="10.8" text-anchor="end" fill="#262626">2</text>
<text transform="translate(384.8,213.27) scale(0.785,1)" font-family="'Liberation Sans', sans-serif" font-size="10.8" text-anchor="end" fill="#262626">3</text>
<text transform="translate(384.8,181.16) scale(0.785,1)" font-family="'Liberation Sans', sans-serif" font-size="10.8" text-anchor="end" fill="#262626">4</text>
<text transform="translate(384.8,149.04) scale(0.785,1)" font-family="'Liberation Sans', sans-serif" font-size="10.8" text-anchor="end" fill="#262626">5</text>
<text transform="translate(384.8,116.93) scale(0.785,1)" font-family="'Liberation Sans', sans-serif" font-size="10.8" text-anchor="end" fill="#262626">6</text>
<text transform="translate(384.8,84.82) scale(0.785,1)" font-family="'Liberation Sans', sans-serif" font-size="10.8" text-anchor="end" fill="#262626">7</text>
<text transform="translate(384.8,52.71) scale(0.785,1)" font-family="'Liberation Sans', sans-serif" font-size="10.8" text-anchor="end" fill="#262626">8</text>
<text transform="translate(384.8,20.6) scale(0.785,1)" font-family="'Liberation Sans', sans-serif" font-size="10.8" text-anchor="end" fill="#262626">9</text>
<text transform="translate(527.4,338.4) scale(0.74,1)" font-family="'Liberation Sans', sans-serif" font-size="12.75" text-anchor="middle" fill="#262626">Infected T-cells</text>
<text transform="translate(375,160.3) scale(0.74,1) rotate(-90)" font-family="'Liberation Sans', sans-serif" font-size="12.75" text-anchor="middle" fill="#262626">Free HIV virus particle</text>
<text transform="translate(516.7,363.7) scale(0.885,1)" font-family="'Liberation Serif', serif" font-size="14.5" text-anchor="middle" fill="#000">(b)</text>
<text transform="translate(389,13.9) scale(0.785,1)" font-family="'Liberation Sans', sans-serif" font-size="10.8" text-anchor="start" fill="#262626">&#215;10<tspan font-size="8.6" dx="0.6" dy="-5">4</tspan></text>
<path d="M31.5 401.3V689.8M62 401.3V689.8M92.5 401.3V689.8M123 401.3V689.8M153.5 401.3V689.8M184 401.3V689.8M214.5 401.3V689.8M245 401.3V689.8M275.5 401.3V689.8M306 401.3V689.8M31.5 689.8H306M31.5 657.74H306M31.5 625.69H306M31.5 593.63H306M31.5 561.58H306M31.5 529.52H306M31.5 497.47H306M31.5 465.41H306M31.5 433.36H306M31.5 401.3H306" stroke="#dfdfdf" stroke-width="1" fill="none"/>
<g><path d="M31.5 497.5l10.5-5.8 16.9-10 32.2-20.4 7.6-4.1 3.6-1.6 3.5-1.4 3.4-1 3.4-.7 3.3-.4 3.4-.2 3.4 .2 3.4 .5 3.6 .8 3.5 1.1 3.7 1.4 3.7 1.7 7.8 4.3 4 2.7 8.3 6.1 4.3 3.5 8.7 7.8 4.5 4.3 9.2 9.3 14 15.3 14 16.4 13.8 17.1 17.3 22.5 11.6 16.1 7 10.1 6.3 9.5 5.5 8.8 4.7 8.2 3.9 7.4 3.1 6.7 2.2 6 1.5 5.4 .7 4.8 0 4.2-.7 3.8-1.3 3.2-.8 1.5-2.1 2.7-1.2 1.2-2.7 2.2-4.7 2.8-5.5 2.3-5.9 1.8-6.3 1.5-8.8 1.6-9.1 1.2-11.4 1.1-13.5 .9-17.2 .7-18 .3-18-.1-16-.4-14-.8-12.3-1.1-9.6-1.4-9.3-2-4.1-1.2-3.8-1.5-3.5-1.7-3.2-1.9-2.9-2.2-2.1-2-2.4-2.9-1.8-2.6-1.5-2.9-1.4-3.3-1.2-3.6-1-4-.8-4.5-.7-4.9-.5-6.9-.2-6.2 .1-8.5 .4-7.4 .6-8.1 1-8.6 1.3-9.2 1.7-9.7 1.6-7.4 1.9-7.6 2.1-7.7 2.5-7.6 2.9-7.4 2.1-4.8 2.4-4.6 2.5-4.4 2.8-4.1 3-3.8 3.3-3.4 3.5-2.9 3.8-2.4 4-1.9 4.3-1.3 2.3-.4 4.8-.2 5.1 .4 5.3 1.2 2.8 .9 5.8 2.3 3 1.5 3 1.6 6.3 3.9 6.4 4.6 6.7 5.2 6.7 5.9 6.9 6.4 6.8 6.9 6.8 7.2 13.3 15.1 12.4 15.5 5.7 7.5 7.7 11 6.8 10.4 3.8 6.4 3.3 6.1 2.7 5.7 3.1 7.7 1.3 4.6 .9 4.3 .3 3.9-.2 3.5-.6 3.2-1 2.8-1.5 2.6-1.7 2.3-2.1 2.1-3.7 2.7-2.7 1.6-4.5 2-4.9 1.7-5.1 1.5-7.1 1.5-9.2 1.5-9.2 1.1-11 1-12.4 .6-11.8 .3-12.5 0-12.9-.3-10.3-.7-8.3-.8-7.4-1-6.8-1.4-6.1-1.6-4.7-1.8-4.9-2.4-3.8-2.5-2.8-2.4-2.5-2.7-2.2-3.2-1.6-2.8-1.7-4-1.2-3.6-1-3.9-.8-4.3-.7-6.1-.3-5.3-.1-5.8 .2-6.3 .4-6.8 .7-7.2 2.1-13.7 2.6-12.6 1.8-6.4 2-6.4 4-10.6 2.9-6.1 2.1-3.8 2.3-3.7 2.5-3.5 2.6-3.2 2.9-2.8 3.1-2.6 3.3-2.1 3.6-1.7 1.8-.7 3.9-.9 2-.3 4.3-.2 2.2 .1 4.5 .7 2.4 .6 4.9 1.5 2.5 1.1 7.9 3.9 8.2 5.2 8.4 6.4 8.6 7.5 8.7 8.3 11.2 12 10.6 12.5 9.6 12.6 8.3 12 6.7 11.2 2.8 5.2 2.2 4.9 1.9 4.6 1.3 4.3 1 3.9 .5 3.7 .1 3.4-.2 3.1-.7 2.8-1 2.6-1.3 2.3-1.5 2.2-1.9 1.9-3.2 2.6-2.4 1.5-3.9 1.9-4.2 1.7-4.5 1.5-9.5 2.2-8.1 1.4-8.2 1-8.1 .8-9.6 .5-10.6 .4-10 0-9.3-.3-8.6-.5-7.9-.8-6.3-.9-5.7-1-5.3-1.4-4.8-1.6-4.4-1.9-3.9-2.3-3-2.2-2.7-2.4-1.9-2.3-1.8-2.5-1.5-2.7-1.7-3.9-1.2-3.4-1-3.8-.7-4.1-.6-4.5-.3-4.9-.2-5.3 .2-5.8 .3-6.1 .7-6.5 1.9-12.2 2.5-11.1 1.6-5.6 1.8-5.6 3.7-9.2 2.7-5.2 1.9-3.4 2.1-3.1 2.2-3 2.4-2.7 2.6-2.5 2.8-2.2 3-1.9 3.1-1.5 3.3-1.1 5.4-.9 5.7 .2 6.2 1.2 6.5 2.3 6.9 3.4 7.1 4.4 7.3 5.4 7.4 6.2 7.4 7 9.6 10.1 9.1 10.5 8.3 10.7 7.1 10.4 5.9 9.8 4.5 9 1.7 4.1 1.4 3.9 .9 3.7 .7 3.4 .2 3.2 0 2.9-.4 2.8-.7 2.5-1 2.3-1.9 3.1-1.6 1.8-2.7 2.5-2.1 1.5-3.3 1.9-3.7 1.7-3.9 1.5-8.3 2.3-5.7 1.2-7.3 1.1-7.3 .8-8.7 .7-8.3 .4-9.3 .1-7.5-.2-8.2-.4-6.5-.6-6.1-.9-5.6-1-5.1-1.3-4.8-1.6-3.6-1.5-3.9-2.2-3-2.1-2.7-2.3-1.9-2.2-1.8-2.3-1.6-2.6-1.4-2.9-1.2-3.1-1-3.5-.9-3.7-.6-4.1-.5-4.5-.2-9.9 .7-9.8 1.5-10.7 2-9.8 2.9-10 3.2-8.2 3.9-7.8 2.7-4.4 2-2.7 2.1-2.5 2.3-2.4 2.4-2 2.6-1.9 2.8-1.5 2.9-1.2 3.1-.9 3.2-.5 5.1-.1 5.5 .8 5.8 1.8 6.1 2.7 6.3 3.5 6.4 4.4 8.8 7 6.5 6 8.4 8.6 8 9.2 7.3 9.3 6.4 9.1 5.3 8.7 4.1 8.1 2.8 7.4 1 3.4 .6 3.1 .4 3-.1 4.1-.3 2.5-.6 2.4-.9 2.1-1.7 2.9-1.4 1.7-2.5 2.4-1.8 1.4-3 1.9-3.3 1.6-3.5 1.5-7.5 2.3-5.2 1.1-6.6 1.2-6.7 .9-6.6 .5-7.7 .5-7.4 .1-7.1-.1-6.7-.3-6.3-.6-5.9-.8-5.5-1-4.2-1-4.7-1.5-3.6-1.5-3.9-2-2.9-2-2.2-1.8-2-2-1.8-2.2-1.7-2.4-1.4-2.6-1.3-2.9-1.1-3.2-.9-3.5-.7-3.7-.5-4.1-.4-7.8 .4-8.8 1.1-9.6 1.7-8.8 2.5-9 3.3-8.9 3.6-7.2 2.4-4 1.8-2.5 4-4.5 2.2-2 2.3-1.8 2.5-1.5 2.6-1.3 2.7-.9 2.9-.7 4.6-.4 5 .3 5.1 1.2 5.5 1.9 5.6 2.8 5.8 3.4 7.9 5.7 7.9 6.8 7.7 7.5 7.3 8.1 6.6 8.2 6 8.2 5 8 3.9 7.4 2.9 6.9 1.7 6.3 .5 2.8 .2 4-.2 2.5-.4 2.2-.6 2.2-1.4 2.9-1.1 1.7-2.1 2.4-1.6 1.4-2.6 2-2.9 1.7-3.1 1.4-6.8 2.5-4.7 1.2-6.1 1.3-6.2 .9-6.2 .7-13.2 .6-6.8 0-6.4-.2-6.1-.5-5.7-.8-5.3-.9-4.2-1-4.6-1.5-3.5-1.4-3.2-1.6-3-1.9-2.2-1.7-2-1.9-1.8-2.1-1.7-2.2-1.4-2.5-1.3-2.7-1.9-5.4-1.2-6.2-.7-7.1 .1-7.8 .8-8.7 1.3-8 2.1-8.2 2.8-8.3 3-6.7 3.7-6.3 2.5-3.4 1.9-2.1 4-3.7 2.3-1.6 2.3-1.3 2.5-1.2 2.6-.8 4.1-.8 2.9-.1 3.1 .2 4.7 .8 5 1.5 5.2 2.3 5.3 2.9 7.2 4.9 7.3 5.8 7.1 6.6 6.8 7.2 6.3 7.4 5.6 7.5 4.9 7.3 3.9 7.1 3 6.5 1.9 6 .6 2.8 .5 3.9-.3 4.6-.4 2.1-1 2.9-1 1.8-1.7 2.4-2.1 2.2-2.3 1.9-2.7 1.7-2.8 1.5-6.2 2.4-4.5 1.3-4.5 1-5.8 1-5.8 .8-5.8 .5-6.8 .3-6.5 0-6.2-.2-10.5-1-5.3-.9-4-.9-4.6-1.4-3.5-1.3-3.2-1.6-2.9-1.8-4.2-3.4-3.1-3.5-2.6-4.2-2-4.9-1.4-5.6-.9-6.4-.2-7.2 .5-7.9 1.3-8.5 1.8-7.7 2.5-7.7 2.7-6.3 3.3-5.9 4-5.3 3.7-3.7 4.2-2.9 2.2-1.2 2.4-1 3.8-1 2.6-.3 2.8-.1 4.3 .4 3.1 .6 3.1 .9 4.8 1.9 4.9 2.5 6.7 4.3 6.8 5.2 6.7 5.9 6.3 6.4 6 6.8 5.4 6.9 4.6 6.8 3.9 6.6 3 6.2 2 5.8 .7 2.7 .6 3.7 .1 2.4-.2 3.3-.4 2-.9 2.8-.9 1.7-1.5 2.3-1.3 1.4-2.1 2-2.3 1.7-2.6 1.5-5.8 2.5-4.1 1.4-4.2 1.1-9.9 1.7-5.5 .6-6.5 .4-11.4 .1-10.4-.8-5.2-.8-4-.8-4.6-1.3-3.5-1.2-3.2-1.5-3-1.6-4.3-3.2-3.2-3.3-2.6-3.9-2.1-4.5-1.6-5.2-1-6-.4-6.6 .3-6.3 .9-7.9 1.5-7.1 2.1-7.2 2.4-5.9 2.8-5.8 3.5-5.2 2.4-2.9 1.8-1.7 3.8-3.1 4.2-2.3 2.3-.8 2.4-.7 2.4-.4 2.6-.1 4.1 .2 5.8 1.2 4.5 1.6 4.6 2.2 6.3 3.8 6.4 4.6 6.2 5.3 6.1 5.9 5.6 6.2 5.2 6.4 4.5 6.4 3.8 6.2 3 5.9 2.2 5.6 .8 2.6 .7 3.6 .2 2.3 0 3.2-.3 2-.7 2.8-.7 1.7-1.3 2.3-1.1 1.5-1.9 1.9-2.1 1.8-2.4 1.5-5.3 2.6-3.8 1.4-4 1.1-4.1 1-5.3 .9-10.5 1.1-11 .2-10.2-.7-5.1-.7-4.1-.7-4.5-1.2-3.4-1.1-3.3-1.4-3-1.6-3.7-2.6-3.3-3-2.7-3.6-2.3-4.2-1.7-4.9-1-4.7-.6-6.1 0-5.7 .6-7.3 1.1-6.6 1.8-6.8 2.4-6.8 2.6-5.5 3.2-5.1 3.7-4.6 3.5-3.1 3.8-2.5 4.3-1.8 4.7-.9 3.7-.1 5.3 .6 4.2 1.2 4.3 1.7 5.9 3 6.1 3.9 5.9 4.6 5.9 5.3 5.5 5.6 5.2 6 4.6 6 4 5.9 3.9 7.2 2.3 5.3 .8 2.5 .9 3.6 .4 2.3 .1 3.2-.1 2-.5 2.7-.6 1.7-1.1 2.4-.9 1.4-1.7 2-1.9 1.8-2.1 1.6-4.9 2.7-3.6 1.4-3.8 1.2-3.9 1-5 1-10 1.2-9.8 .3-9.2-.4-9.1-1.2-4.6-1-3.5-1.1-3.3-1.2-3-1.4-3.9-2.4-3.4-2.8-2.8-3.3-2.4-3.9-1.9-4.5-1.1-4.3-.8-5.7-.2-5.4 .3-6.7 .9-6.2 1.5-6.4 2.1-6.5 2.3-5.3 2.8-5 3.4-4.6 3.1-3.2 3.5-2.7 3.9-2.1 4.2-1.3 4.7-.6 5 .4 3.9 .8 4.1 1.3 5.6 2.6 5.7 3.4 5.7 4.1 5.6 4.7 5.4 5.2 5 5.5 4.6 5.7 4 5.7 4.1 6.8 2.5 5.2 2 6.1 .5 2.2 .4 3.2 0 2-.3 2.8-.4 1.7-.9 2.4-.7 1.5-1.4 2-1.7 1.9-2 1.6-4.4 2.8-3.4 1.5-3.5 1.3-7.5 1.9-4.8 .9-4.9 .6-9.5 .5-9.1-.2-9.1-1-4.5-.9-3.6-1-3.3-1.1-3.1-1.3-3.9-2.2-3.4-2.7-3-3.1-2.2-3-2-4.2-1.3-4-1-5.2-.5-4.9 .1-6.3 .7-5.8 1.1-6.1 1.8-6.2 2.4-6.1 2.6-4.9 3-4.6 2.9-3.2 3.2-2.8 3.6-2.2 4-1.6 4.3-.8 4.6-.1 5 .8 3.9 1.1 5.3 2.2 5.5 3.1 5.4 3.7 5.4 4.4 5.3 4.8 4.9 5.2 4.5 5.3 3.9 5.4 4.1 6.6 2.6 5.1 2.1 5.9 1.1 5.3 .1 2-.1 2.7-.3 1.8-.7 2.4-.7 1.4-1.2 2.1-1.6 1.9-1.7 1.6-4.2 2.9-3.1 1.5-3.4 1.4-7.1 2-8.4 1.4-9.3 .7-8.9-.1-9.1-.9-7.4-1.5-3.3-1-3.2-1.2-4-2-3.5-2.4-3.1-2.9-2.3-2.8-2.1-3.8-1.5-3.8-1.1-4.1-.6-4.6-.2-5.8 .3-5.4 .8-5.7 1.4-5.9 2-6 2.2-4.8 2.6-4.6 3.2-4.2 3.7-3.5 3.4-2.3 3.7-1.8 4.1-1 4.4-.4 4.7 .5 4.9 1.3 3.8 1.4 5.3 2.6 5.2 3.4 5.3 3.9 5.1 4.5 4.8 4.8 4.5 5 4 5.2 4.2 6.3 2.7 5 2.4 5.8 1.4 5.3 .3 4.8-.2 1.7-.5 2.5-1.6 3.6-1.3 1.9-1.5 1.7-1.8 1.6-2 1.4-2.2 1.2-3.1 1.5-3.3 1.2-3.5 1-8 1.7-8.2 .8-8.9 .2-9-.6-7.5-1.2-6.7-2-4.1-1.8-3.7-2.1-3.3-2.7-2.4-2.6-2.3-3.5-1.7-3.4-1.2-3.8-.9-4.3-.4-5.4 .1-5.1 .7-6.3 1.2-5.7 1.7-5.7 2-4.7 2.4-4.5 2.9-4.2 3.4-3.7 3.1-2.4 3.4-2 3.8-1.3 4.1-.7 4.4 .1 4.7 .8 3.6 1.1 5 2.1 5.1 2.9 5.1 3.4 5 4.1 4.8 4.4 5.6 6 4 4.9 4.2 6.1 2.8 4.8 2.6 5.7 1.6 5.3 .5 4.7-.4 4.2-1.3 3.7-1.2 2-1.4 1.7-1.7 1.6-1.8 1.5-2 1.2-3 1.5-3.1 1.3-3.3 1.1-7 1.5-7.9 1.1-8.7 .3-8.2-.3-8.3-1.2-6.7-1.8-4.2-1.6-3.8-2.1-3.3-2.5-2.5-2.4-2.4-3.3-1.7-3.3-1.4-3.6-.9-4-.6-5.2-.1-4.9 .6-6 1-5.5 1.6-5.5 1.7-4.6 2.2-4.4 2.7-4.2 3.2-3.7 2.9-2.5 3.2-2.1 3.6-1.6 3.9-.9 4.1-.2 4.5 .5 4.6 1.2 4.8 1.9 5 2.6 4.9 3.2 4.9 3.8 4.6 4.2 4.5 4.5 4 4.7 4.4 6 3.6 5.8 2.7 5.6 1.7 5.2 .7 4.7-.3 4.2-1.1 3.6-1.9 3.2-1.5 1.6-1.6 1.6-1.9 1.3-2.7 1.6-5.3 2.2-6.7 1.8-6.8 1.2-7.8 .6-8.3 0-7.7-.7-7.1-1.4-4.4-1.3-4.1-1.8-3.6-2.1-2.7-2.1-2.8-2.9-2-2.9-1.9-3.7-1.2-3.7-1-4.8-.3-4.4 .1-5.7 .6-5.1 1.2-5.4 1.7-5.3 1.8-4.5 2.4-4.2 2.7-3.9 2.6-2.8 3.7-2.9 3.3-1.8 3.6-1.2 3.9-.7 4.2 .1 4.4 .7 4.6 1.5 4.7 2.1 4.8 2.7 4.8 3.4 4.7 3.8 4.4 4.2 4.2 4.4 4.7 5.7 3.9 5.8 3 5.5 2.1 5.3 1.2 4.8 .2 4.3-.7 3.9-1.4 3.3-1.2 1.8-1.5 1.6-3.5 2.8-4.8 2.5-5.5 1.9-6.6 1.5-7.6 1-7.5 .3-7.1-.2-7.4-1-4.8-1-4.3-1.4-4-1.7-3.5-2.2-3.1-2.5-2.2-2.5-2.3-3.4-1.5-3.3-1.3-4.3-.8-4.7-.2-5.3 .3-4.9 .7-5.1 1.3-5.2 1.9-5.2 2-4.3 2.4-4 3-3.6 3.4-3.1 3-2 3.4-1.5 3.7-.9 3.9-.3 4.2 .3 4.4 1 4.6 1.7 4.6 2.4 4.7 2.9 4.6 3.5 4.5 3.8 4.2 4.2 4.8 5.5 4.2 5.6 3.3 5.5 2.5 5.3 1.6 4.9 .6 4.4-.3 4-1 3.5-1.8 3.1-1.4 1.6-1.6 1.4-3.7 2.5-5 2.3-5.5 1.6-6.5 1.3-6.7 .7-7.3 .2-6.9-.4-5.8-.7-4.7-1.1-4.3-1.3-3.9-1.8-3.5-2.1-3-2.5-2.6-2.9-1.9-2.9-1.7-3.8-1.3-4.3-.6-4.8-.2-4.4 .4-5.6 .9-5 1.3-5.1 2-5.1 2.5-4.9 2.6-3.8 3.1-3.3 2.8-2.3 3.9-2.2 3.4-1.1 3.8-.6 4 0 4.2 .7 4.4 1.3 4.5 2 4.6 2.6 4.6 3.1 4.4 3.5 4.3 4 4.9 5.2 3.5 4.3 3.8 5.5 2.9 5.3 2.1 5 1.1 4.6 .3 4.2-.6 3.8-1.3 3.2-2 2.8-3.2 2.9-3.8 2.3-4.3 1.8-5.4 1.6-6.5 1.2-6.5 .6-6.4 .1-6.1-.2-5.7-.8-5.3-1.1-4.3-1.4-3.8-1.7-3.4-2.1-3-2.5-2.6-2.9-2.1-3.4-1.6-3.8-1.2-4.3-.6-4.8 0-5.3 .6-5.5 1.1-5 1.5-5 2.2-4.9 2.2-3.9 2.7-3.6 3.1-3.1 3.6-2.6 3.3-1.5 3.4-.9 3.8-.4 4 .2 4.2 .9 4.4 1.5 4.4 2.1 4.5 2.7 4.5 3.1 4.3 3.6 5 5 3.7 4.1 4.1 5.4 2.7 4.2 2.7 5.1 1.5 3.9 1.1 4.5 .3 4.1-.6 3.7-1.3 3.2-2 2.8-2.6 2.3-3.6 2.4-4.2 1.8-4.5 1.5-5.5 1.2-5.6 .7-6.4 .4-6.1-.1-6.6-.6-5.4-1-4.9-1.4-4.4-1.9-3.9-2.4-3-2.4-2.8-3.4-2-3.4-1.5-3.9-1-4.4-.5-4.8 .1-5.2 .7-5.6 1.2-4.9 1.7-4.9 1.8-4 2.3-3.8 2.6-3.5 3.2-3 2.8-1.9 4-1.9 3.5-.9 3.7-.3 4 .3 4.1 .9 4.3 1.6 4.4 2.1 4.4 2.7 4.3 3.1 5.3 4.5 3.9 3.9 3.6 4.1 3.2 4.2 3.3 5.2 2.1 4 1.9 4.8 .9 3.5 .4 4.1-.3 3-1.1 3.3-1.7 2.9-2.4 2.5-2.8 2.1-3.2 1.7-4.2 1.7-4.5 1.2-6.3 1.2-6.3 .6-7 .1-6.6-.4-6.1-1-5-1.4-4.5-1.8-3.9-2.2-3.5-2.8-2.5-2.8-2.3-3.8-1.5-3.9-1.2-4.9-.4-4.8 .2-5.2 .7-5.5 1.2-4.8 1.8-4.8 2.3-4.7 2.3-3.6 2.8-3.3 2.6-2.2 3.6-2.3 3.2-1.3 3.5-.8 3.7-.2 3.9 .4 4.1 1 4.3 1.6 4.3 2.1 4.3 2.7 5.3 4 4.1 3.6 3.8 3.9 3.5 4 3.7 5.1 2.6 4.1 2 3.9 1.5 3.8 1 4.4 .3 3.2-.2 3-.7 2.6-1.6 3-1.6 2.1-2.6 2.2-2.9 1.9-4 1.9-5.1 1.6-6.2 1.3-7 .7-6.9 .1-6.6-.4-6-.9-5.6-1.5-4.9-2.1-3.8-2.4-3.3-2.8-2.7-3.4-1.9-3.5-1.5-4.5-.8-4.4-.3-4.8 .3-5.2 .9-5.5 1.4-4.7 1.8-4.8 2-3.7 2.5-3.6 2.8-3.1 3.3-2.6 2.9-1.7 4.1-1.4 3.5-.5 3.8 .1 3.9 .6 4.2 1.2 4.2 1.8 4.2 2.4 4.3 2.8 4.1 3.3 4 3.6 3.6 3.8 3.4 4 3 4 2.5 4 2 3.9 1.8 4.6 .8 3.5 .3 3.2-.2 2.9-.9 3.3-1.2 2.4-2 2.5-2.6 2.2-3 1.9-4.7 2-5.9 1.7-6.1 1-6.9 .6-6.7-.1-7.1-.6-5.8-1.2-5.2-1.8-4.2-2-3.6-2.5-3-3-2.2-3.1-2-4.1-1.2-4-.7-5.2 0-4.9 .5-5.3 1-4.7 1.5-4.7 2.1-4.6 2.1-3.6 2.6-3.3 2.9-2.9 3.5-2.4 3.8-1.7 3.4-.8 3.6-.2 3.8 .3 4 .9 4.1 1.5 4.2 2 4.2 2.6 4.1 2.9 4 3.4 3.8 3.7 4.3 4.8 3 3.9 2.6 4 2.2 3.8 1.9 4.7 1 3.5 .4 3.2 0 3-.7 3.4-1.1 2.4-1.9 2.6-1.9 1.8-2.7 2-4.5 2.2-5.7 1.9-6 1.2-6.9 .7-6.7 .1-7.1-.6-5.9-1-5.3-1.6-4.3-1.9-3.7-2.4-3.1-2.8-2.4-3-2-3.9-1.4-3.9-.8-4.3-.3-4.8 .3-5 .8-4.6 1.2-4.6 1.8-4.6 2.3-4.5 2.4-3.4 2.7-3 3.3-2.6 3.6-1.9 3.2-1 3.4-.5 3.7 0 3.9 .6 4 1.2 4.1 1.7 5.2 2.9 4.1 2.9 4 3.2 3.8 3.5 4.3 4.7 3.1 3.9 2.7 3.9 2.2 3.8 2.1 4.7 1.1 3.4 .6 3.3 .1 3-.6 3.5-.9 2.4-1.8 2.7-1.8 1.9-2.6 2-4.3 2.3-4.9 1.8-5.9 1.3-6.8 .9-6.7 .2-6.4-.3-6.6-1-5.5-1.5-4.3-1.8-3.8-2.2-3.3-2.7-2.4-2.9-2.2-3.7-1.5-3.8-1-4.8-.4-4.6 .3-5 .6-4.5 1.2-4.6 1.7-4.5 2.2-4.4 2.2-3.5 2.7-3 3.2-2.6 3.5-2 3.1-1.2 3.4-.6 3.6-.1 3.7 .5 4 1 4 1.6 5.1 2.8 4.1 2.7 4 3.1 3.8 3.4 4.3 4.6 3.2 3.8 2.7 3.8 2.3 3.8 2.2 4.6 1.2 3.5 .7 3.3 .2 3.1-.4 3.5-.8 2.5-1.6 2.7-1.7 1.9-2.5 2.1-4.2 2.4-4.8 1.8-5.7 1.4-6.8 .9-6.7 .3-6.4-.2-6.6-1-5.5-1.4-4.3-1.7-3.9-2.2-3.3-2.7-2.4-2.7-2.3-3.7-1.5-3.7-1.1-4.7-.4-4.6 .2-4.9 .7-5.2 1.2-4.5 1.7-4.5 2.2-4.3 2.3-3.4 2.7-3 3.1-2.6 3.5-1.9 3.1-1.1 3.4-.6 3.5 0 3.8 .5 3.9 1 4 1.6 5 2.8 4.1 2.6 3.9 3.1 3.7 3.4 4.3 4.5 3.1 3.8 2.7 3.8 2.2 3.8 2.2 4.5 1.2 3.5 .6 3.2 .2 3.1-.4 3.4-.9 2.4-1.6 2.8-1.6 1.9-2.6 2-4.1 2.4-4.7 1.7-5.8 1.5-6.6 .9-6.6 .3-6.4-.3-6.6-1-5.4-1.4-4.3-1.7-3.8-2.2-3.3-2.7-2.4-2.8-2.3-3.6-1.4-3.7-1.1-4.7-.4-4.6 .2-4.8 .8-5.2 1.2-4.5 1.7-4.4 2.2-4.3 2.3-3.3 2.7-3 3.2-2.4 3.5-1.9 3.1-1 3.3-.6 3.6 0 3.7 .6 3.9 1 3.9 1.7 5.1 2.7 4.9 3.4 5.7 4.8 4.3 4.5 4.5 5.6 3.1 4.7 2.8 5.4 1.7 5.1 .4 2.4 .1 2.3-.3 3.4-.5 1.9-.8 1.8-2.1 3-2.9 2.6-3.4 2.1-4.5 1.9-5.7 1.6-5.8 .9" stroke="#0072BD" stroke-width="1.05" fill="none" stroke-linejoin="round"/><path d="M31.5 497.5l107.7-66.7-7.1 3.3-1.9 1.3-1.2 1.1-.4 1.1 .2 1.1 .7 1.1 2.8 2.5 12.6 9.5 6.7 5.5 7.4 6.5 8 7.5 8.5 8.5 8.9 9.4 9.2 10.2 14 16.4 9.4 11.5 13.8 17.5 13.1 17.4 12 16.6 10.7 15.5 9 14.1 7.2 12.4 3.8 7.4" stroke="#FF0000" stroke-width="1.05" fill="none" stroke-dasharray="5.5 3.2"/><path d="M286.6 628.2l1.6 3.4 2.5 6.3 1 3 1.3 5.3 .4 2.4 .2 4.4-.5 3.9-1.1 3.5-1.6 3-2.2 2.6-2.6 2.3-3 2-3.4 1.7-5.5 2.2-4 1.3-6.3 1.5-8.8 1.7-11.4 1.5-13.7 1.2-13.5 .8-17.1 .6-17.8 .2-17.7-.1-15.8-.5-12.5-.7-9.9-.8-8.8-1.1-7.9-1.5-6.1-1.5-5.5-1.9-4.9-2.4-4.3-2.8-3.2-2.9-2.4-2.8-2.1-3.3-1.9-3.7-1.6-4.3-1.3-4.9-1-5.6-.8-6.3-.4-7.2-.1-8 .3-8.9 .6-7.8 .8-8.3 1.2-8.9 1.5-9.3 1.9-9.7 1.8-7.5 2.1-7.4 2.4-7.5 1.7-4.8 3-7.1 2.3-4.5 2.4-4.3 2.6-4 2.9-3.7 3.1-3.3 3.3-3 3.6-2.4 3.8-1.9 4.1-1.3 4.4-.7 2.3-.1 4.8 .3 2.5 .4 5.2 1.4 5.5 2.1 2.8 1.3 5.8 3.2 6 3.9 9.4 7.1 6.4 5.5 9.8 9.2 9.7 10.1 9.6 10.8 9.3 11.1 11.3 14.8 10 14.2 6.3 9.9 3.6 6.2 3.1 5.9 3.7 8" stroke="#FF0000" stroke-width="1.05" fill="none" stroke-dasharray="5.5 3.2"/><path d="M249.8 629.7l1.8 4.9 1.3 4.5 .8 4.2 .3 3.8-.2 3.4-.5 3.1-1 2.8-1.4 2.6-1.6 2.3-2 2-2.3 1.9-3.8 2.4-2.8 1.4-4.5 1.8-4.7 1.6-5 1.3-7 1.4-8.8 1.4-10.6 1.1-10.4 .8-11.7 .5-11.1 .2-11.7-.1-10.7-.4-8.6-.7-7.9-.8-7.1-1.2-6.5-1.4-5.8-1.8-4.4-1.8-4.1-2.2-3.6-2.5-2.7-2.5-2.4-2.8-2.2-3.3-1.5-2.9-1.6-4-1.1-3.6-1.1-5.1-.7-4.5-.6-6.2-.1-5.5 .3-12.2 .6-6.8 .8-7.3 2.4-13.4 2.9-12.1 3.2-10.2 2.4-6 1.7-3.8 2.9-5.6 2.1-3.5 2.3-3.3 2.5-3.1 2.7-2.8 2.8-2.5 3.1-2.1 3.2-1.7 3.5-1.3 3.6-.9 3.9-.4 2 0 4.2 .4 2.2 .4 6.7 2.1 4.8 2 7.4 4 7.7 5.2 7.9 6.3 8 7.1 7.9 7.9 10.3 11.2 7.4 8.8 8.9 11.6 7.9 11.4 6.4 10.6 3.8 7.3 2 4.6 1.6 4.3" stroke="#FF0000" stroke-width="1.05" fill="none" stroke-dasharray="5.5 3.2"/><path d="M234.2 632l1.3 4 .8 3.7 .5 3.5 0 3.2-.2 3-.6 2.7-.9 2.5-2 3.3-1.5 2-2.9 2.6-2.1 1.5-3.5 2.1-3.8 1.8-4.1 1.5-8.7 2.4-7.6 1.5-7.7 1.1-7.6 .8-9 .7-10.1 .3-9.6 .1-9-.3-8.3-.5-7.6-.8-6-.9-5.6-1.1-5.1-1.4-4.6-1.7-4.2-2-3.8-2.3-2.9-2.3-2.6-2.6-2.2-2.9-2-3.3-1.4-3-1.5-4.1-1-3.6-.9-5.1-.6-4.4-.3-6.1 0-5.3 .2-5.7 .5-6 .7-6.4 1.1-6.6 1.5-6.9 1.3-5.3 3.3-10.6 3.5-8.6 2.6-4.9 1.8-3.1 3.1-4.4 2.2-2.7 2.4-2.5 2.5-2.2 2.7-1.9 2.9-1.6 3.1-1.2 3.2-.9 3.4-.5 3.6-.1 5.6 .6 6 1.7 4.2 1.6 6.5 3.3 6.8 4.3 6.9 5.1 6.9 5.9 6.9 6.5 6.7 7 6.5 7.2 6.1 7.5 7.4 9.9 4.9 7.2 5.4 9.2 3.3 6.4 3.1 7.8" stroke="#FF0000" stroke-width="1.05" fill="none" stroke-dasharray="5.5 3.2"/><path d="M224.1 631.7l1.1 3.6 .7 3.4 .4 3.1 .1 4.4-.4 2.6-.6 2.4-.9 2.3-1.8 3-1.4 1.8-2.6 2.4-1.9 1.5-3.1 1.9-3.5 1.7-3.6 1.5-3.9 1.3-5.3 1.4-5.5 1.1-6.9 1.1-6.9 .8-8.2 .7-8 .3-8.8 0-7.2-.2-7.8-.5-6.2-.6-5.8-1-5.4-1.1-4.9-1.4-4.5-1.7-3.4-1.7-3.7-2.3-2.8-2.2-2.5-2.5-1.9-2.3-2-3.1-1.4-2.8-1.5-3.9-1-3.5-.8-3.7-.6-4.1-.4-5.5-.1-4.8 .5-10.6 .7-5.7 .9-6 2.5-10.9 3-9.4 3.2-7.8 4-7.2 2.7-4 2-2.5 3.3-3.4 2.4-1.9 2.5-1.7 2.6-1.4 2.8-1.2 3-.8 3.1-.5 3.3-.1 5.1 .5 5.5 1.3 3.7 1.4 5.9 2.7 6 3.6 6.2 4.3 6.2 5 6.2 5.5 6 6 7.8 8.5 5.4 6.6 6.5 8.7 4.3 6.4 4.8 8.2 2.9 5.7 2.8 7.1" stroke="#FF0000" stroke-width="1.05" fill="none" stroke-dasharray="5.5 3.2"/><path d="M217 631.5l1.7 6.4 .4 3 0 4-.3 2.5-.5 2.3-.8 2.1-1.5 2.9-1.3 1.7-2.2 2.4-2.7 2.1-2.9 1.8-3.1 1.6-3.4 1.4-3.5 1.2-4.9 1.4-5.1 1.1-6.4 1-6.4 .8-7.6 .6-7.3 .3-7.1 .1-6.8-.2-7.3-.6-5.9-.7-5.5-.9-5.1-1.2-3.9-1.2-4.3-1.7-3.3-1.7-3-1.9-2.8-2.2-2.4-2.5-1.8-2.2-1.6-2.4-1.4-2.7-1.5-3.6-1-3.3-.9-3.5-.6-3.8-.6-8.5 .4-9.6 .5-5.3 .8-5.4 2.2-9.9 2.7-8.7 1.7-4.3 1.9-4.2 3.7-6.6 2.6-3.6 1.9-2.3 3-3 2.2-1.8 2.4-1.6 2.4-1.3 2.6-1.1 2.8-.8 2.8-.5 3-.2 4.8 .3 5 1.1 5.2 1.8 5.4 2.6 5.6 3.2 5.6 4 5.7 4.5 5.6 5 5.5 5.4 7 7.6 4.9 5.9 5.9 7.8 3.9 5.8 4.4 7.5 2.6 5.2 2.6 6.6" stroke="#FF0000" stroke-width="1.05" fill="none" stroke-dasharray="5.5 3.2"/><path d="M211.7 631.5l1.5 5.9 .4 2.8 .1 3.7-.3 2.4-.7 3.2-.8 1.9-1.6 2.7-1.2 1.6-2.1 2.3-2.5 1.9-2.8 1.7-2.9 1.5-3.2 1.3-6.7 2.2-4.7 1.1-6 1.1-6 .8-5.9 .5-7 .4-6.8 .1-6.4-.2-6.1-.4-5.8-.6-4.5-.8-5-1.1-3.9-1.1-4.3-1.6-3.3-1.5-3.1-1.8-2.7-2.1-2-1.8-1.9-2-1.7-2.3-1.4-2.4-1.4-2.7-1.1-2.9-.9-3.1-.8-3.4-.9-7.7-.1-8.7 .8-8.4 1.6-9 2.1-8 2.9-8 1.7-3.9 2-3.7 3.8-5.8 2.7-3.2 1.9-1.9 4.1-3.2 2.3-1.4 2.4-1.1 2.5-.8 2.7-.6 2.7-.3 2.9-.1 4.5 .5 4.7 1.2 5 1.8 5 2.5 5.2 3.1 5.3 3.7 7 5.7 5.1 4.7 6.6 6.9 6.2 7.1 5.5 7.2 3.6 5.3 4.2 6.9 3.2 6.6 2.3 6" stroke="#FF0000" stroke-width="0.85" fill="none" stroke-dasharray="5 3.7"/><path d="M207.7 632.2l1.3 5.5 .3 2.5 0 3.6-.2 2.1-.8 3.1-.7 1.8-1.5 2.5-1.2 1.6-2 2.1-2.3 1.8-2.6 1.7-2.8 1.4-3.9 1.7-7.5 2.3-4.5 .9-5.7 1-5.6 .7-6.7 .5-11.8 .2-6.1-.3-5.7-.5-5.3-.8-4.2-.8-4.7-1.2-3.6-1.2-3.4-1.5-3-1.6-2.9-1.9-2.5-2.1-2.3-2.4-1.7-2.2-1.8-3-1.3-2.6-1.3-3.6-.8-3.1-1.1-7-.3-4.9 0-4.2 .8-9 .8-4.8 1-4.9 2.6-8.8 3.1-7.3 1.8-3.6 2.1-3.4 3.9-5.1 2.7-2.7 1.9-1.6 3.1-2 2.3-1.1 2.3-.9 2.4-.7 2.6-.4 2.6-.2 2.8 .1 2.9 .3 4.4 1.1 3.1 1 4.7 2.1 4.9 2.6 4.9 3.2 4.9 3.7 4.9 4.1 4.8 4.4 4.6 4.7 4.3 4.9 4.1 5 4.9 6.7 3.1 4.9 2.7 4.8 2.3 4.5 2.2 5.7" stroke="#FF0000" stroke-width="0.85" fill="none" stroke-dasharray="5 3.7"/><path d="M204 631.6l1.4 5.3 .3 2.4 .1 3.4-.2 2.1-.6 3-.6 1.8-1.3 2.4-1.1 1.5-1.8 2.1-2.1 1.9-2.4 1.6-5.4 2.7-5.9 2.1-4.1 1.1-5.4 1.1-9.7 1.3-11.5 .6-10.8-.4-9.8-1.1-4.8-1-3.7-1.1-3.6-1.2-3.2-1.4-3-1.6-2.7-1.9-3.9-3.5-1.7-2-1.5-2.2-1.3-2.4-1.2-2.6-1.6-5.2-1.1-6.7-.3-6.6 .4-7.3 1.1-7.8 1.6-6.9 2.4-7.1 3-6.9 3.2-5.3 3.7-4.8 3.5-3.3 2.9-2.1 2.1-1.1 4.4-1.8 2.4-.5 2.4-.3 3.9 0 4.1 .5 4.3 1.1 4.4 1.7 6.1 3 4.6 2.9 6.2 4.6 6.1 5.3 5.9 5.7 5.4 6.1 5 6.2 4.3 6.2 3.6 6 2.8 5.8 2 5.3" stroke="#FF0000" stroke-width="0.85" fill="none" stroke-dasharray="5 3.7"/><path d="M201.3 632.3l.7 2.5 .7 3.6 .1 2.2 0 3.2-.3 1.9-.8 2.7-.7 1.6-1.4 2.3-2.9 3.3-2.1 1.7-2.4 1.5-5.2 2.6-6.7 2.2-4 .9-5.1 1-10.3 1.1-10.9 .3-10.1-.6-5.1-.7-4-.8-3.8-.9-3.5-1.1-3.2-1.3-3.1-1.5-2.7-1.8-2.1-1.5-3.6-3.6-1.5-2.1-1.4-2.3-1.2-2.4-1-2.7-1.6-5.9-.7-6.8 0-6.7 .7-7.2 1.5-7.6 2-6.7 2.6-6.6 3.4-6.3 3.5-4.7 4.1-4 3.7-2.6 3-1.5 2.1-.7 4.6-.9 5-.1 3.9 .6 4.1 1.1 4.3 1.6 4.3 2.2 4.4 2.6 4.4 3 5.8 4.7 4.3 3.8 5.4 5.5 5 5.8 4.6 5.9 2.9 4.3 3.4 5.7 2.7 5.4 1.8 5.1" stroke="#FF0000" stroke-width="0.85" fill="none" stroke-dasharray="5 3.7"/><path d="M198.9 632.6l.7 2.4 .6 3.4 .1 2.1 0 3-.3 1.9-.8 2.5-.6 1.6-1.3 2.2-1.6 2-1.9 1.8-2.1 1.6-2.3 1.4-5 2.4-6.5 2-8.8 1.8-9.9 1-10.5 .2-9.7-.7-4.8-.7-3.8-.8-3.6-1-3.4-1.1-3.1-1.4-2.9-1.5-2.6-1.8-1.9-1.6-2.2-2.2-1.6-2-2.6-4.5-2-5.2-1.2-6.1-.4-6.9 .4-7.6 1.3-8.2 2.1-7.4 2.4-6.3 3.2-6 3.3-4.5 3.8-4 2.6-2 1.8-1.1 4-1.8 3.2-.9 2.2-.3 4.8 0 3.7 .5 4 1 4 1.5 4.2 2 4.2 2.5 4.2 2.8 4.2 3.3 4.1 3.5 3.9 3.8 5.1 5.3 3.4 4.2 4.2 5.5 2.8 4.1 3.1 5.4 1.8 3.9 1.8 4.8" stroke="#FF0000" stroke-width="0.85" fill="none" stroke-dasharray="5 3.7"/><path d="M196.7 632.4l1.3 5.6 .2 2-.1 2.9-.2 1.8-.7 2.6-.6 1.5-1.2 2.2-2.6 3.1-1.9 1.6-2.1 1.5-4.7 2.4-6.2 2.2-3.7 .9-4.7 1-8.6 1-9.4 .4-9.6-.4-8-1.2-7.1-1.8-3.2-1.1-3-1.4-2.8-1.6-2-1.4-3.6-3.3-2.7-3.4-2.3-4.6-1.6-4.6-1.1-6-.3-5.9 .4-6.4 1-6.9 1.8-7.1 2.3-6 2.9-5.8 3-4.5 3.5-4 3.3-2.6 2.6-1.6 1.9-.9 4.1-1.3 4.4-.6 3.5 .2 4.9 .8 3.8 1.2 4 1.7 5.3 2.8 4.1 2.7 5.3 4 3.9 3.4 5 4.9 4.7 5.1 4.2 5.3 3.7 5.3 3.1 5.1 2.4 5 1.7 4.6" stroke="#FF0000" stroke-width="0.85" fill="none" stroke-dasharray="5 3.7"/><path d="M195 632.8l1 4.3 .3 2 0 2.9-.1 1.8-.6 2.5-.5 1.5-1.1 2.1-2.4 3.2-1.7 1.6-2 1.5-4.5 2.5-5.8 2.2-7.2 1.7-8.3 1.2-9.2 .5-8.6-.2-8-.9-6.5-1.4-3.3-1.1-3.1-1.2-5-2.7-3.4-2.6-2.8-3-2.4-3.6-1.9-4-1.4-4.7-.7-4.4-.4-5.7 .3-5.3 .9-6.5 1.3-5.9 2-5.8 2.1-4.8 2.7-4.5 3.1-4.1 3.6-3.5 3.3-2.3 3.7-1.7 4-1.1 4.3-.4 4.6 .4 4.9 1.2 3.8 1.4 5.1 2.6 5.2 3.2 5.1 3.8 6.3 5.5 4.7 4.8 5.3 6.2 3.7 5.1 3.9 6.2 2.3 4.7 2.1 5.6" stroke="#FF0000" stroke-width="0.85" fill="none" stroke-dasharray="5 3.7"/><path d="M193.7 633.6l.9 5.1 0 4.5-.3 1.7-.7 2.3-1.8 3.4-1.4 1.8-1.7 1.6-3.9 2.8-4.6 2.2-5.8 1.9-8 1.7-8.1 .9-8.7 .2-9-.6-7.5-1.2-6-1.7-3-1.2-2.8-1.4-2.6-1.6-1.9-1.4-3.4-3.4-2.7-3.9-2.1-4.6-1.2-4.6-.8-6-.1-5.8 .7-6.2 1.3-6.4 1.7-5.7 2.4-5.6 3-5.2 3.1-3.9 3.6-3.4 4.1-2.6 2.7-1.2 2-.5 4-.7 4.4 .1 3.4 .5 3.6 .9 3.6 1.4 3.7 1.8 5.1 2.9 3.7 2.6 4.9 4 3.6 3.2 4.5 4.6 4.2 4.8 3.7 4.8 2.4 3.7 2.8 4.7 2.1 4.5 1.5 4.3" stroke="#FF0000" stroke-width="0.85" fill="none" stroke-dasharray="5 3.7"/><path d="M192.3 633.7l.8 4 .2 4.5-.5 3.2-1.5 3.5-2.1 3.1-2.8 2.5-4.1 2.6-4.6 2-5.8 1.7-6.9 1.3-7 .8-7.7 .2-7.3-.3-6.8-.9-6.2-1.5-4.9-1.7-4.4-2.3-3.8-2.8-3.2-3.3-2.3-3.5-2-4.5-1.2-4.6-.7-5.8 0-5.7 .8-6.9 1.5-6.4 2.2-6.3 2.6-5.3 3.3-4.9 3.2-3.5 3.8-2.9 4.3-2.1 3.7-1 4.1-.4 4.3 .3 3.4 .7 3.5 1.1 4.8 2.1 3.7 2 4.9 3.2 4.8 3.7 4.6 4.2 4.3 4.4 4.9 5.8 3.5 4.7 2.8 4.7 2.4 4.4 2 5.3" stroke="#FF0000" stroke-width="0.85" fill="none" stroke-dasharray="5 3.7"/><path d="M190.9 633.1l1 4.9 .1 4.3-.7 3.8-1.6 3.4-2.3 2.8-3.5 2.9-4.1 2.2-4.7 1.8-6.6 1.7-6.8 1.1-7.7 .6-8.1-.1-7.6-.8-6.3-1.3-5.6-1.8-4.9-2.5-3.3-2.3-2.9-2.8-2.4-3.2-1.7-3.2-1.5-4.1-.9-4-.5-4.3-.1-4.7 .6-5.9 1-5.2 1.5-5.3 1.7-4.4 2.2-4.3 2.6-3.9 3.1-3.6 2.8-2.4 4-2.4 3.5-1.3 3.8-.8 4.1 0 4.3 .6 4.5 1.3 4.7 1.9 4.8 2.7 4.7 3.1 5.8 4.7 5.4 5.2 4.9 5.6 3.5 4.5 3.7 5.7 2.7 5.4 1.9 5.1" stroke="#FF0000" stroke-width="0.85" fill="none" stroke-dasharray="5 3.7"/><path d="M190 633.8l.9 4.7 0 4.1-.9 3.7-.8 2-1.2 1.8-1.4 1.7-1.5 1.5-3.7 2.5-4.3 2-5.5 1.8-7.4 1.6-7.5 .8-8.2 .1-8.4-.6-7-1.3-5.6-1.7-2.8-1.3-2.6-1.4-2.4-1.6-1.8-1.4-3.1-3.3-2.4-3.9-1.9-4.6-1.1-5.2-.5-5.8 .4-6.4 1-5.9 1.7-6 2.1-5.2 2.7-4.8 3.3-4.4 3.3-3.2 3.8-2.4 4.3-1.7 2.8-.6 1.9-.2 4.1 .1 3.2 .5 3.3 .9 3.4 1.2 3.4 1.6 3.5 2 3.5 2.2 3.4 2.6 4.4 3.8 3.2 3 4 4.3 2.8 3.2 3.3 4.5 2.1 3.3 2.4 4.3 1.4 3.1 1.4 3.9" stroke="#FF0000" stroke-width="0.85" fill="none" stroke-dasharray="5 3.7"/><path d="M189 633.7l.9 4.6 0 4.1-.8 3.6-1.5 3.2-1.3 1.7-1.4 1.5-3.5 2.6-4.1 2.1-5.3 1.9-6.4 1.5-7.4 .9-8.1 .4-7.7-.4-7-1.1-5.8-1.6-2.9-1.1-2.7-1.2-4.4-2.8-3.2-3.1-2.4-3.2-2.1-4.1-1.3-4.2-.9-5.4-.2-5.2 .5-5.5 1.1-5.8 1.5-5.1 2.1-5 2.7-4.8 2.7-3.6 3.2-3.1 3.7-2.5 4.1-1.8 3.6-.8 3.9-.2 3.1 .3 4.2 .9 3.3 1.2 3.4 1.4 4.5 2.5 3.4 2.2 4.5 3.4 3.2 2.8 4.1 4 3.8 4.2 3.4 4.3 3 4.3 2.4 4.2 1.9 4.1 1.4 3.8" stroke="#FF0000" stroke-width="0.85" fill="none" stroke-dasharray="5 3.7"/><path d="M188.2 633.8l.9 4.5 0 4-.8 3.6-1.5 3.1-2.2 2.7-3.3 2.7-3.9 2.1-5.1 2-6.3 1.5-7.3 1-7.2 .4-7.7-.3-7-.9-5.8-1.4-5.2-2-4.5-2.6-3-2.5-2.6-2.8-2.1-3.4-1.7-3.8-1.1-4.3-.6-4-.1-5.1 .4-4.7 1-5.7 1.4-5 2.1-4.9 2.1-3.9 2.5-3.6 3-3.3 3.5-2.6 3.1-1.7 3.4-1.1 3.6-.6 3.9 .1 4.1 .6 3.2 .9 4.4 1.8 4.4 2.3 4.5 2.9 4.3 3.3 4.2 3.7 3.9 3.9 4.5 5.2 3.1 4.3 3.2 5.2 1.9 4 1.7 4.7" stroke="#FF0000" stroke-width="0.85" fill="none" stroke-dasharray="5 3.7"/><path d="M187.5 634.1l.8 4.4 0 3.9-.8 3.5-1.6 3.1-2.1 2.6-3.3 2.6-3.9 2.1-4.2 1.7-6.2 1.6-6.3 1-7.2 .5-7.6-.2-6.4-.7-5.9-1.3-5.3-1.8-4.7-2.4-3.1-2.3-2.7-2.7-2.3-3.1-1.6-3.1-1.4-3.9-.7-3.8-.4-4.2 0-4.4 .6-5.4 1.1-4.9 1.6-4.9 1.7-4 2.1-3.8 2.6-3.5 3-3.1 2.8-2.1" stroke="#FF0000" stroke-width="0.85" fill="none" stroke-dasharray="5 3.7"/></g>
<path d="M31.5 689.8v-3M31.5 401.3v3M62 689.8v-3M62 401.3v3M92.5 689.8v-3M92.5 401.3v3M123 689.8v-3M123 401.3v3M153.5 689.8v-3M153.5 401.3v3M184 689.8v-3M184 401.3v3M214.5 689.8v-3M214.5 401.3v3M245 689.8v-3M245 401.3v3M275.5 689.8v-3M275.5 401.3v3M306 689.8v-3M306 401.3v3M31.5 689.8h3M306 689.8h-3M31.5 657.74h3M306 657.74h-3M31.5 625.69h3M306 625.69h-3M31.5 593.63h3M306 593.63h-3M31.5 561.58h3M306 561.58h-3M31.5 529.52h3M306 529.52h-3M31.5 497.47h3M306 497.47h-3M31.5 465.41h3M306 465.41h-3M31.5 433.36h3M306 433.36h-3M31.5 401.3h3M306 401.3h-3" stroke="#262626" stroke-width="1" fill="none"/>
<path d="M31.5 401.3H306V689.8H31.5" stroke="#3a3a3a" stroke-width="1.1" fill="none"/>
<path d="M31.5 400.75V690.35" stroke="#595959" stroke-width="1.1" fill="none"/>
<text transform="translate(31.5,706.6) scale(0.785,1)" font-family="'Liberation Sans', sans-serif" font-size="10.8" text-anchor="middle" fill="#262626">0</text>
<text transform="translate(62,706.6) scale(0.785,1)" font-family="'Liberation Sans', sans-serif" font-size="10.8" text-anchor="middle" fill="#262626">1</text>
<text transform="translate(92.5,706.6) scale(0.785,1)" font-family="'Liberation Sans', sans-serif" font-size="10.8" text-anchor="middle" fill="#262626">2</text>
<text transform="translate(123,706.6) scale(0.785,1)" font-family="'Liberation Sans', sans-serif" font-size="10.8" text-anchor="middle" fill="#262626">3</text>
<text transform="translate(153.5,706.6) scale(0.785,1)" font-family="'Liberation Sans', sans-serif" font-size="10.8" text-anchor="middle" fill="#262626">4</text>
<text transform="translate(184,706.6) scale(0.785,1)" font-family="'Liberation Sans', sans-serif" font-size="10.8" text-anchor="middle" fill="#262626">5</text>
<text transform="translate(214.5,706.6) scale(0.785,1)" font-family="'Liberation Sans', sans-serif" font-size="10.8" text-anchor="middle" fill="#262626">6</text>
<text transform="translate(245,706.6) scale(0.785,1)" font-family="'Liberation Sans', sans-serif" font-size="10.8" text-anchor="middle" fill="#262626">7</text>
<text transform="translate(275.5,706.6) scale(0.785,1)" font-family="'Liberation Sans', sans-serif" font-size="10.8" text-anchor="middle" fill="#262626">8</text>
<text transform="translate(306,706.6) scale(0.785,1)" font-family="'Liberation Sans', sans-serif" font-size="10.8" text-anchor="middle" fill="#262626">9</text>
<text transform="translate(27.8,694.4) scale(0.785,1)" font-family="'Liberation Sans', sans-serif" font-size="10.8" text-anchor="end" fill="#262626">0</text>
<text transform="translate(27.8,662.34) scale(0.785,1)" font-family="'Liberation Sans', sans-serif" font-size="10.8" text-anchor="end" fill="#262626">50</text>
<text transform="translate(27.8,630.29) scale(0.785,1)" font-family="'Liberation Sans', sans-serif" font-size="10.8" text-anchor="end" fill="#262626">100</text>
<text transform="translate(27.8,598.23) scale(0.785,1)" font-family="'Liberation Sans', sans-serif" font-size="10.8" text-anchor="end" fill="#262626">150</text>
<text transform="translate(27.8,566.18) scale(0.785,1)" font-family="'Liberation Sans', sans-serif" font-size="10.8" text-anchor="end" fill="#262626">200</text>
<text transform="translate(27.8,534.12) scale(0.785,1)" font-family="'Liberation Sans', sans-serif" font-size="10.8" text-anchor="end" fill="#262626">250</text>
<text transform="translate(27.8,502.07) scale(0.785,1)" font-family="'Liberation Sans', sans-serif" font-size="10.8" text-anchor="end" fill="#262626">300</text>
<text transform="translate(27.8,470.01) scale(0.785,1)" font-family="'Liberation Sans', sans-serif" font-size="10.8" text-anchor="end" fill="#262626">350</text>
<text transform="translate(27.8,437.96) scale(0.785,1)" font-family="'Liberation Sans', sans-serif" font-size="10.8" text-anchor="end" fill="#262626">400</text>
<text transform="translate(27.8,405.9) scale(0.785,1)" font-family="'Liberation Sans', sans-serif" font-size="10.8" text-anchor="end" fill="#262626">450</text>
<text transform="translate(168.4,724) scale(0.74,1)" font-family="'Liberation Sans', sans-serif" font-size="12.75" text-anchor="middle" fill="#262626">Free HIV virus particle</text>
<text transform="translate(9.2,546.3) scale(0.74,1) rotate(-90)" font-family="'Liberation Sans', sans-serif" font-size="12.75" text-anchor="middle" fill="#262626">Healthy T-cells</text>
<text transform="translate(159.9,749.2) scale(0.885,1)" font-family="'Liberation Serif', serif" font-size="14.5" text-anchor="middle" fill="#000">(c)</text>
<text transform="translate(285.6,725.6) scale(0.785,1)" font-family="'Liberation Sans', sans-serif" font-size="10.8" text-anchor="start" fill="#262626">&#215;10<tspan font-size="8.6" dx="0.6" dy="-5">4</tspan></text>
<path d="M508.7 691L388.5 617.5M388.5 617.5L388.5 457.7M539.66 679.64L419.46 606.14M419.46 606.14L419.46 446.34M570.62 668.28L450.42 594.78M450.42 594.78L450.42 434.98M601.58 656.92L481.38 583.42M481.38 583.42L481.38 423.62M632.54 645.56L512.34 572.06M512.34 572.06L512.34 412.26M663.5 634.2L543.3 560.7M543.3 560.7L543.3 400.9M508.7 691L663.5 634.2M663.5 634.2L663.5 474.4M478.65 672.62L633.45 615.83M633.45 615.83L633.45 456.03M448.6 654.25L603.4 597.45M603.4 597.45L603.4 437.65M418.55 635.88L573.35 579.08M573.35 579.08L573.35 419.28M388.5 617.5L543.3 560.7M543.3 560.7L543.3 400.9M388.5 617.5L543.3 560.7M543.3 560.7L663.5 634.2M388.5 585.54L543.3 528.74M543.3 528.74L663.5 602.24M388.5 553.58L543.3 496.78M543.3 496.78L663.5 570.28M388.5 521.62L543.3 464.82M543.3 464.82L663.5 538.32M388.5 489.66L543.3 432.86M543.3 432.86L663.5 506.36M388.5 457.7L543.3 400.9M543.3 400.9L663.5 474.4" stroke="#dfdfdf" stroke-width="1" fill="none"/>
<g><path d="M608.1 573l-2.6 1.4-2.4 .8-2.2 .3-2.1-.2-2.1-.5-2-.8-2-1.1-4.3-2.9-21.4-16.6-14.1-9.9-7.8-5.1-12.4-7.6-8.6-5-13-7.3-12.8-6.8-12.2-6-14.5-6.8-9.4-4-7.9-2.8-6.4-1.8-4.9-.6-1.4 0-2.3 .3-.9 .4-1.5 1-.6 .6-.9 1.6-.5 1.9-.2 2.2 .4 5.1 1.3 5.8 2.4 8.1 3.5 10.2 4.7 12.2 8.1 20.1 10.2 23.6 8.8 19.6 7.5 15.8 5.8 11 4.9 8.2 4.4 5.9 2.3 2.4 2.3 2 2.4 1.6 2.5 1.2 2.7 .9 3 .4 3.2 0 2.9-.4 3.2-.8 3.5-1.1 4.6-1.9 4.1-2.1 4.3-2.7 3.7-2.4 3.7-2.9 3.7-3.2 3.7-3.6 2.6-3 4-5.6 2-3.7 1.2-2.5 1-2.7 .7-2.9 .5-2.9 .3-3-.1-3.2-.4-3.3-1.2-5.1-1.4-3.5-1.7-3.6-3.4-5.5-4.3-5.7-3.5-3.9-5.9-5.8-6.7-5.8-7.4-5.8-7.9-5.6-8.2-5.3-8.3-5-8.1-4.6-10.2-5.3-7.1-3.2-8.2-3.2-5.3-1.6-3-.7-2.7-.4-3.4 .1-1.8 .4-1.4 .7-1.7 1.5-.8 1.3-.5 1.5-.4 2.6 .1 4.1 .7 4.6 1.5 6.3 1.9 6.5 2.8 8.2 4.5 12 5.1 12.8 5.5 12.8 5.6 12.3 4.8 9.7 4.4 8.3 3.8 6.4 3.8 5.3 4.1 4.6 2.3 2 2 1.3 2.1 1.1 2.2 .8 2.3 .5 2.5 .2 2.6-.1 2.9-.5 3-.8 2.5-.9 3.4-1.5 2.8-1.5 6-3.9 5.2-4.5 3-3.1 2.1-2.5 2-2.7 1.8-2.9 2.5-5.4 1-3.5 .5-2.5 .4-5.2-.2-2.7-.4-2.8-.6-2.9-1-3-1.3-3-1.6-3.1-2.9-4.8-3.7-4.8-6-6.6-5.1-4.9-7.8-6.3-6.2-4.7-8.6-5.8-8.6-5.2-8.4-4.5-7.7-3.7-8.4-3.3-5.6-1.4-2.4-.4-3.1-.1-1.7 .2-1.4 .5-1.3 .7-1.4 1.4-.9 1.9-.7 3 0 3.5 .6 5 1.2 5.5 1.5 5.7 4.8 14.1 4 10.3 4 9.6 4.3 9.8 4.2 8.7 4 7.7 3.4 6 3.4 5.1 3.3 4.3 3.7 3.7 2 1.5 2 1.3 3.8 1.5 2.3 .4 1.9 .2 2.5-.1 2.1-.4 2.8-.7 2.4-.8 4.9-2.4 5.2-3.5 4.6-4 3.7-4.2 3.3-5 2.2-4.7 1.5-5.2 .4-3.4 .1-2.3-.5-5-1.3-5.2-2.3-5.4-2.4-4.2-4.1-5.7-3.7-4.4-4.2-4.3-6.3-5.6-6.9-5.5-7.3-5.1-7.3-4.6-8.9-4.9-6.5-3.1-7.3-2.7-4.8-1.3-2.1-.3-2.8 0-2.9 .6-1.2 .6-1.3 1.2-1.2 2.2-.7 2.8-.1 3.2 .4 3.6 .8 4.8 1.3 5.1 1.9 6.4 2.6 7.4 3.5 9.4 3.7 8.8 3.6 8.1 3.9 8.2 3.8 7.1 3.3 5.5 3.3 4.8 2.9 3.5 3.8 3.5 3.5 2.3 3.7 1.3 3.6 .5 2.4-.1 2-.3 4.3-1.3 4.5-2.2 4.7-3.2 4.1-3.7 3.3-3.9 2.9-4.6 1.8-4.4 1.2-4.8 .4-4.1-.2-3.4-.3-2.3-1.2-4.7-2-5-3-5.1-2.7-3.9-4.4-5.3-3.8-3.9-5.6-5-6.2-4.9-6.3-4.5-6.5-4.1-7.8-4.4-5.8-2.7-6.4-2.4-4.4-1.1-1.9-.3-2.5-.1-2.7 .6-1.1 .5-1.4 1.1-1.2 2-.7 2.5-.2 2.9 .3 4.1 .8 4.4 1.1 4.8 1.7 5.8 2.3 6.9 2.9 7.7 3.4 8.3 3.4 7.6 3.7 7.7 3.3 6 3.2 5.4 3.2 4.5 2.9 3.4 3.3 3 3.4 2.2 3.7 1.4 3.9 .4 4.2-.5 4.1-1.3 4.2-2.3 3.8-2.8 3.7-3.6 2.9-3.7 2.5-4.4 1.5-4.1 1-4.6 .1-3.9-.6-5.3-1.3-4.4-2-4.7-2.8-4.7-2.6-3.6-4-4.9-3.5-3.5-5.1-4.7-5.5-4.5-5.8-4.1-5.8-3.7-7-3.9-5.2-2.5-5.9-2.2-4-1-4.1-.3-2.5 .5-1.1 .5-1.2 1-1.3 1.8-.7 2.3-.3 2.6 .2 3.8 .6 4.1 1.2 5.3 1.6 5.5 2.1 6.4 2.7 7.3 3.2 7.7 3.2 7.2 3.2 6.5 3.2 5.8 2.8 4.5 3.1 4.4 2.8 3.2 3.2 2.9 3.4 2.2 3.5 1.3 3.4 .3 4-.4 3.9-1.3 4-2.1 3.5-2.6 3.4-3.4 2.6-3.6 2.2-4.1 1.4-3.9 .8-4.3 .1-3.7-.7-5-1.2-4.1-1.9-4.4-2.5-4.4-2.4-3.4-3.7-4.5-4.3-4.5-4.7-4.3-5.1-4-5.3-3.8-5.2-3.4-6.4-3.5-4.8-2.2-5.3-2-3.6-.8-3.8-.2-2.3 .6-1 .4-1.2 1-1.1 1.7-.7 2.1-.3 2.5 .1 3.6 .5 3.9 1.1 4.9 1.5 5.2 2 6.1 2.5 6.8 3 7.4 3.1 6.8 3.1 6.1 3 5.5 2.7 4.3 2.7 3.8 2.8 3.1 3.1 2.8 2.9 1.8 3.1 1.2 3.2 .5 3.4-.2 3.6-1 3.8-1.8 3.3-2.3 3.2-3 2.9-3.8 2.1-3.8 1.3-3.6 .8-4.1 .1-3.4-.4-4.6-1-4-1.6-4-2.3-4.2-2.8-4.2-2.5-3.2-3.8-4.2-4.3-4.1-4.6-3.9-4.9-3.6-4.9-3.3-6-3.5-4.5-2.3-5.1-2-3.6-1-3.8-.4-2.9 .4-1 .5-1.1 .8-1.2 1.6-.9 2.5-.3 2.3 .1 3.4 .5 3.7 1 4.7 1.4 4.9 1.9 5.8 4.9 12.7 3 6.6 2.9 5.9 3 5.4 2.6 4.1 2.7 3.6 2.6 3 3.1 2.8 2.9 1.7 2.9 1.1 3.2 .5 3.3-.3 3.4-1 3.6-1.8 3.1-2.3 3-2.9 2.3-3.2 1.9-3.6 1.2-3.5 .8-3.8 .1-4.1-.7-4.5-1-3.7-1.7-3.9-2.2-4-2-3-3.2-4-3.6-4-4.1-3.9-4.3-3.6-4.6-3.4-4.5-3-5.6-3.2-4.2-2.1-4.7-1.8-3.3-.9-3.5-.3-2.8 .5-2 1.2-1.1 1.5-.8 2.4-.3 2.3 .1 3.2 .5 3.5 .9 4.5 1.5 5.5 1.8 5.5 2.4 6.2 2.7 6.7 2.6 5.5 2.8 5.6 2.6 4.5 2.5 4 2.6 3.4 2.6 2.9 3.1 2.6 2.8 1.6 2.9 1 3 .3 3.2-.3 3.4-1.1 3-1.6 2.9-2.3 2.8-2.9 2.1-3 1.8-3.6 1.1-3.3 .6-3.7 0-3.2-.5-4.2-1-3.6-1.5-3.7-2-3.8-2.5-3.8-3.1-3.8-3.4-3.8-3.9-3.6-4.1-3.5-4.2-3.2-4.3-2.8-5.3-3.1-3.9-1.9-4.5-1.7-3.1-.8-3.3-.3-2.6 .5-1.9 1.2-1.1 1.4-.8 2.3-.3 2.8 .2 3.1 .4 3.4 1 4.4 2.9 9.8 2.3 6 2.6 6.4 2.5 5.3 2.7 5.4 2.5 4.4 2.5 3.8 2.6 3.3 2.5 2.8 2.7 2.2 2.7 1.6 2.8 1 3 .3 3.1-.3 3.2-1 2.8-1.6 2.9-2.1 2.6-2.8 2-3 1.7-3.4 1-3.2 .5-3.6 0-3-.5-4.1-1-3.4-1.4-3.6-1.9-3.6-2.4-3.7-2.9-3.7-3.3-3.6-3.6-3.5-3.9-3.3-4-3-4.1-2.8-4.9-2.9-3.8-1.8-4.2-1.7-3-.8-3.2-.3-2.6 .4-1.8 1.1-1.1 1.4-.8 2.1-.4 2.6 .1 3 .4 3.3 .9 4.2 2.8 9.4 2.1 5.8 2.5 6.2 2.4 5.1 2.7 5.3 2.4 4.3 2.5 3.7 2.4 3.2 2.6 2.7 2.5 2.1 2.7 1.6 2.8 1 2.9 .3 3-.3 2.7-.9 2.7-1.5 2.7-2 2.6-2.7 1.9-2.8 1.6-3.3 1-3.1 .5-3.4 0-2.9-.4-3.9-.9-3.3-1.3-3.4-1.8-3.5-2.2-3.5-2.7-3.5-3.1-3.5-3.4-3.4-3.6-3.2-3.9-3-3.8-2.6-4.8-2.9-3.6-1.9-4.1-1.7-2.9-.8-3.2-.4-2.5 .3-2 .9-1.1 1.2-.9 2-.4 2.5 0 2.8 .3 3.1 .8 4 2.6 9.1 2 5.6 2.5 6 4.9 10.3 2.4 4.2 2.3 3.6 2.5 3.2 2.4 2.7 2.6 2.1 2.6 1.6 2.7 .9 2.4 .4 3-.3 2.6-.7 2.6-1.3 2.6-1.9 2.5-2.5 1.9-2.6 1.6-3.1 1-3 .5-3.2 .1-3.5-.4-3.8-.8-3.2-1.3-3.2-1.7-3.4-2.1-3.4-2.6-3.4-2.9-3.4-3.3-3.3-3.4-3.1-3.7-2.8-3.7-2.6-4.5-2.8-3.5-1.9-4-1.6-2.8-.9-3.1-.4-2.5 .2-1.9 .9-1.1 1.1-1 1.9-.4 2.3-.1 2.7 .4 3.6 .7 3.9 2.6 8.9 1.9 5.4 2.4 5.9 4.9 9.9 2.3 4 2.3 3.6 2.4 3 2.4 2.6 2.5 2 2.6 1.4 2.7 .9 2.4 .3 2.9-.3 2.5-.9 2.6-1.3 2.5-2 2-2.1 1.8-2.6 1.5-3 .9-2.9 .5-3.1 .1-3.5-.5-3.6-.8-3.1-1.3-3.2-1.6-3.3-2.1-3.3-2.5-3.3-2.8-3.3-3.1-3.1-3.4-3-3.5-2.8-3.5-2.5-4.4-2.7-3.3-1.7-3.9-1.7-2.7-.8-3-.4-2.4 .2-1.9 .9-1.1 1.1-.9 1.8-.4 2.3-.1 2.6 .3 3.5 .7 3.7 2.5 8.6 1.9 5.3 2.3 5.8 4.7 9.7 2.3 3.9 2.3 3.5 2.4 3 2.4 2.4 2.4 2 2.5 1.4 2.7 .8 2.3 .3 2.8-.4 2.5-.8 2.5-1.4 2.4-1.9 2-2.1 1.7-2.6 1.4-3 .8-2.8 .5-3.1 0-3.4-.6-3.6-.9-3-1.2-3.1-1.7-3.2-2-3.2-2.5-3.3-2.7-3.1-3.1-3-3.2-2.9-3.4-2.7-3.4-2.4-4.2-2.6-3.2-1.6-3.7-1.6-2.7-.7-2.8-.4-2.3 .3-1.8 .8-1.2 1.4-.8 1.9-.4 2.3 0 2.6 .4 3.5 .7 3.7 2.5 8.5 3.9 10.1 4.7 9.4 2.2 3.9 2.3 3.3 2.3 3 2.4 2.4 2.4 1.9 2.2 1.2 2.6 .8 2.3 .3 2.7-.3 2.5-.8 2.4-1.4 2.3-1.8 1.9-2.1 1.7-2.5 1.4-2.9 .8-2.8 .4-3 0-3.3-.5-3.5-.9-2.9-1.2-3.1-1.6-3.1-1.9-3.1-2.4-3.1-2.6-3.1-3-3-6.4-5.4-3.3-2.4-4.1-2.5-3.1-1.7-3.6-1.5-2.6-.8-2.8-.4-2.3 .2-1.7 .8-1.3 1.4-.8 1.8-.4 2.2-.1 2.5 .4 3.4 .7 3.6 2.3 8.2 3.9 9.9 4.5 9.4 2.2 3.7 2.3 3.4 2.2 2.9 2.4 2.4 2.4 1.8 2.1 1.2 2.6 .9 2.3 .2 2.6-.3 2.4-.7 2.4-1.3 2.3-1.9 1.8-2 1.6-2.5 1.4-2.8 .7-2.7 .4-3 0-3.2-.5-3.4-.8-2.9-1.2-3-1.6-3-1.9-3.1-2.3-3.1-2.6-3-2.8-2.9-6.2-5.3-3.2-2.3-4-2.5-3-1.6-3.5-1.5-2.6-.8-2.7-.4-2.3 .2-1.7 .8-1.3 1.3-.8 1.7-.4 2.1-.1 2.5 .3 3.3 .7 3.5 2.3 8.1 3.7 9.7 4.5 9.2 2.2 3.8 2.2 3.3 2.2 2.8 2.4 2.4 2.3 1.8 2.1 1.2 2.6 .8 2.2 .3 2.3-.3 2.4-.7 2.3-1.2 2.3-1.8 1.8-1.9 1.6-2.3 1.3-2.8 .8-2.6 .4-2.9 .1-3.1-.5-3.3-.7-2.8-1.1-2.9-1.5-3-1.8-3-2.1-3-2.5-3-2.7-2.9-2.9-2.7-3.9-3.1-3.1-2.3-3.9-2.4-2.9-1.6-3.5-1.4-2.4-.8-2.7-.3-2.2 .1-1.7 .8-1.3 1.3-.8 1.7-.4 2.1-.1 2.4 .4 3.2 .6 3.5 2.2 7.9 3.7 9.6 4.4 9.1 2.2 3.6 2.2 3.3 2.2 2.8 2.3 2.3 2.3 1.8 2.2 1.1 2.4 .8 2.3 .3 2.3-.3 2.3-.7 2.2-1.2 2.2-1.8 1.8-1.9 1.6-2.4 1.2-2.7 .7-2.6 .4-2.9 0-3.1-.5-3.3-.7-2.7-1.1-2.9-1.5-2.9-1.8-3-2.1-2.9-2.5-2.9-2.6-2.8-2.9-2.7-3.8-3-3-2.2-3.8-2.3-2.9-1.6-3.3-1.3-2.4-.7-2.6-.4-2.1 .2-1.7 .8-1.2 1.3-.8 1.7-.4 2.1 0 2.3 .3 3.2 .6 3.4 2.2 7.9 3.6 9.4 4.4 8.9 2.1 3.6 2.2 3.2 2.2 2.7 2.3 2.3 2 1.5 1.8 1.1 2.2 .8 1.8 .3 2.3 0 1.9-.3 2-.8 1.9-1.1 1.8-1.5 1.8-1.9 1.3-1.8 1.1-2.2 .8-2.4 .5-2.1 .2-2.9 0-2.5" stroke="#FF0000" stroke-width="1.0" fill="none"/><path d="M571.5 638.5l8.4-16.6 3.8-8.5 2.5-7.1 1.4-6.2 .5-5.7-.1-2.7-.9-5.2-1.7-5.1-1.1-2.5-2.9-5.1-1.7-2.5-4.1-5.2-2.3-2.5-5.3-5.2-9.1-7.9-10.5-7.9-11.7-7.9-16.6-10.2-16.9-9.5-16.1-8.4-14.5-6.9-12.2-5.1-5.1-1.9-4.5-1.3-5.5-1.2-4.2-.1-2.1 .5-1.6 .9-1.2 1.3-.7 1.7-.4 2-.1 3.4 .5 4 1.4 5.9 1.9 6.4 2.8 8.5 7.9 20.6 10.7 25.6 12.1 27.6 9.6 20.1 3.7 7.3 3.6 6.3 3.4 5.3 2.9 4 3.8 4.1 3.5 2.8 3.8 1.9 2.3 .7 2 .3 2.6 .1 2.2-.1 5-1 5.7-2 6.4-3.1 6.2-3.7 6.5-4.9 5.7-5.2 4.5-5 4-5.8 2.7-5.2 1.1-2.7 .8-2.9 .6-3 .4-3.1 0-3.3-.3-3.3-1.2-5.3-2-5.5-3-5.7-4-5.9-5.1-6-6-6.2-6.9-6.1-7.6-6.1-11-7.8-11.5-7.4-11.4-6.6-10.7-5.6-11.9-5.4-7.9-2.8-3.3-.9-3-.6-3.7-.2-2 .2-1.7 .6-1.3 .8-1 1.1-.8 1.4-.5 1.6-.3 3.8 .5 5.6 1.4 6.3 2.4 8.2 4.9 14.1 6.5 16.4 8.3 19.6 7.6 16.4 5.9 11.7 5.1 8.8 2.6 3.9 2.3 3 2.3 2.6 2.3 2.2 2 1.5 2 1.3 2.2 1 1.7 .6 2.4 .5 2 .1 4.4-.3 3-.7 2.5-.8 5.5-2.4 6-3.5 5.5-4.2 4.7-4.4 4.5-5.3 3.2-5.1 2.1-4.6 1.5-5 .7-5.4 0-2.8-.2-2.9-1-4.6-1.6-4.8-2.4-5-3.1-5.1-4-5.2-4.7-5.2-5.4-5.3-6-5.2-6.5-5.1-6.8-4.9-9.4-6.1-9.3-5.5-8.7-4.6-6.1-2.8-7.2-2.8-6.1-1.8-4.8-.6-2 .1-1.6 .3-1.5 .6-1.1 .9-.9 1-.7 1.3-.8 3 0 4.7 .8 5.3 1.7 7.1 2.2 7.4 4.4 12.5 5.7 14.4 6.5 15.1 6.5 13.7 5.2 9.8 4.6 7.4 4.1 5.5 2.2 2.4 1.9 1.8 3.6 2.4 3.9 1.6 2.3 .5 1.9 .2 4.2-.3 4.5-1.2 5.1-2.1 4.7-2.8 4.8-3.6 4.1-3.9 3.3-3.9 2.9-4.3 2.4-5 1.4-4.3 .7-4.7-.1-5.1-.9-5.3-1.4-4.2-2-4.4-2.6-4.4-3.2-4.6-3.9-4.6-4.4-4.6-5-4.5-5.4-4.5-5.7-4.2-7.8-5.4-7.9-4.9-7.6-4.1-7.1-3.4-6.3-2.5-5.4-1.6-4.5-.7-3.5 .2-1.4 .5-1.2 .6-1 .8-.8 1-.6 1.2-.6 2.1-.2 4 .5 4.7 1.2 6.2 1.9 6.6 3.7 11.2 4.6 11.9 5.5 12.9 5.3 11.3 4.6 8.9 4.5 7.4 4 5.4 4.1 4.3 3.5 2.5 3.3 1.5 2.2 .6 1.8 .3 3.8-.1 4.3-.8 4.5-1.8 4.2-2.4 4.4-3.2 3.6-3.5 3.5-4.1 2.5-4 2-4.5 1.2-3.9 .6-4.3-.1-4.6-.8-4.8-1.7-5.1-1.8-3.9-2.4-4-2.9-4.1-3.5-4.1-3.9-4.1-4.3-4.1-4.7-3.9-4.9-3.8-6.8-4.8-6.8-4.3-6.7-3.7-6.2-3-5.6-2.3-4.9-1.5-4.2-.7-3.3 .1-2.5 .9-1.8 1.5-.7 1-.7 1.7-.5 3.6 .2 4.1 .9 5.5 1.7 6.9 3 9.2 4.1 11 4.7 11.2 5 10.7 4.4 8.5 4 6.5 3.9 5.3 3.7 3.9 3 2.3 3.1 1.6 3.4 1 3.6 .3 3.9-.6 3.6-1.2 3.8-1.9 3.9-2.6 3.4-2.9 3.2-3.5 2.4-3.4 2.1-3.9 1.5-4.3 .8-3.8 .2-4.1-.5-4.3-1.1-4.6-1.3-3.5-1.8-3.7-2.3-3.7-2.7-3.7-3.1-3.8-3.6-3.8-5.2-4.8-4.3-3.6-5.9-4.4-6.1-4.1-6.1-3.6-5.7-3-5.3-2.4-4.8-1.7-5-1.1-3.3-.1-1.3 .2-1.8 .6-1.7 1.4-.7 .9-.7 1.6-.6 3.2 0 3.7 .7 5.1 1.3 5.4 2.5 8.5 3.8 10.3 4.3 10.6 4.4 9.5 4.3 8.2 3.9 6.4 3.8 5.3 3.5 3.7 3 2.3 3 1.7 3.3 .9 3 .3 3.2-.3 3.4-1 3.5-1.5 3.6-2.4 3.1-2.5 3-3.2 2.7-3.7 1.8-3.6 1.4-4 .7-3.6 .3-3.7-.4-4-.9-4.2-1.2-3.3-2.1-4.5-2.1-3.5-2.5-3.5-2.9-3.5-3.2-3.4-4.8-4.6-3.9-3.2-5.4-4.1-5.5-3.8-5.4-3.3-5.3-2.8-4.9-2.2-4.3-1.6-3.9-1-3.2-.3-1.4 .1-1.8 .5-1.8 1-.8 .8-.8 1.3-.9 2.8-.2 3.3 .5 4.6 .9 5 2.2 7.9 3.1 8.9 3.7 9.4 4.2 9.3 4.1 8.2 3.8 6.4 3.7 5.3 3.5 3.9 2.8 2.4 2.6 1.5 3.1 1.2 2.8 .5 3 0 3.1-.7 3.3-1.2 2.9-1.7 2.9-2.1 2.9-2.7 2.6-3.2 1.9-3.1 1.6-3.5 1.1-4 .4-3.4 0-3.6-.5-3.9-.8-3-1.6-4.1-1.7-3.2-2.7-4.4-2.5-3.2-2.8-3.3-4.2-4.3-3.4-3.1-4.8-4-5.1-3.6-5-3.3-5-2.8-4.6-2.4-4.3-1.7-4.7-1.4-3.2-.4-3.2 .3-1.9 .8-.8 .6-.9 1.2-1 2.4-.4 3.7 .3 4.3 .9 4.7 1.7 6.6 2.8 8.4 3.5 9 4 9 3.7 7.3 3.6 6.4 3.7 5.2 3.3 3.9 2.8 2.4 2.5 1.6 2.5 1.2 2.8 .6 2.8 .1 3-.5 3.1-1 2.7-1.4 3.2-2.3 2.7-2.5 2.4-3 1.8-3 1.5-3.3 1.1-3.7 .4-3.2 0-3.4-.5-3.6-.7-2.9-1.4-3.9-1.5-3-2.4-4.1-2.2-3.1-2.6-3.1-3.8-4-4.2-3.9-4.5-3.8-4.7-3.4-4.7-3.1-4.6-2.6-4.3-2.2-4-1.6-4.4-1.3-3-.4-3 .2-1 .4-1.2 .7-1.6 1.8-.8 2.4-.4 2.9 .3 4.1 .7 4.4 1.6 6.3 2.6 8 3.3 8.6 3.5 8 3.6 7.1 3.5 6.2 3.3 4.7 3.2 3.9 2.4 2.2 2.4 1.7 2.5 1.2 2.6 .8 2.7 .3 2.8-.3 3-.8 2.5-1.2 3.1-2 2.5-2.3 2.4-2.7 1.7-2.7 1.5-3 1.2-3.4 .5-3 .2-3.2-.3-3.4-.7-3.5-1.3-3.7-1.2-2.9-2.2-3.9-2-2.9-2.3-2.9-3.5-3.9-3.8-3.8-4.2-3.5-4.3-3.4-4.4-3-4.4-2.6-4.1-2.2-3.9-1.7-4.3-1.4-3-.6-3 .1-2.4 .8-1.6 1.5-1 2.2-.5 2.6 .1 3.8 .5 4.1 1.4 6 2.4 7.7 2.8 7.5 3.4 7.8 3.4 7.1 3.4 6.1 3.2 4.8 3.2 3.9 2.2 2.3 2.4 1.7 2.4 1.4 2.5 .8 2.6 .4 2.3-.1 2.8-.6 2.5-1 2.9-1.7 2.4-2 2.3-2.4 1.8-2.5 1.5-2.7 1.2-3.1 .8-3.5 .3-3-.2-3.2-.5-3.3-1.1-3.5-1.1-2.7-1.9-3.7-1.8-2.8-2-2.8-3.1-3.7-3.6-3.7-3.8-3.5-4-3.2-4.2-3-4.1-2.7-4-2.2-3.8-1.8-4.2-1.6-3-.7-3.2-.2-2.4 .5-1.8 1.3-1.2 1.8-.6 2.4-.2 3.4 .4 3.9 1.2 5.7 1.9 6.6 2.6 7.3 3.2 7.7 3.3 7 3.3 6.2 3.1 4.8 3.1 4.1 2.2 2.3 2.3 1.8 2.3 1.5 2.1 .8 2.5 .6 2.2 .1 2.7-.4 2.3-.7 2.8-1.4 2.4-1.7 2.3-2.2 2-2.6 1.6-2.6 1.2-2.9 .9-3.2 .4-2.8 0-3-.4-3.1-.8-3.3-1.3-3.5-1.7-3.5-1.6-2.7-1.9-2.7-2.9-3.6-3.2-3.5-3.6-3.3-3.8-3.2-3.9-3-4-2.6-3.8-2.2-3.7-1.8-4.1-1.7-3-.8-3.1-.4-2.5 .4-1.9 1.1-1.3 1.6-.7 2.2-.3 3.2 .3 3.7 1 5.3 1.7 6.4 2.5 7.1 2.7 6.9 3.2 6.9 3 5.6 3.3 5.4 3 4.1 2.2 2.3 2.2 2 2.3 1.5 2 .9 2.4 .7 2.2 .2 2.5-.3 2.3-.6 2.7-1.3 2.3-1.5 2.2-2 2-2.5 1.5-2.3 1.3-2.8 .9-3 .4-2.6 .1-2.9-.2-3-.6-3.1-1.1-3.3-1.5-3.4-2-3.5-1.8-2.6-2.7-3.4-3.1-3.4-3.4-3.3-3.6-3-3.7-2.9-3.7-2.5-3.7-2.2-3.5-1.9-4.1-1.6-2.9-.9-3-.4-2.5 .3-1.9 .9-1.3 1.6-.8 2-.4 3 .2 3.5 .9 5.2 1.4 5.4 2.3 6.9 2.6 6.8 2.8 6.2 3.2 6.2 3 4.9 2.9 4.2 2.1 2.4 2.2 2 2.2 1.7 2 1 2.3 .8 2.1 .3 2.1 0 2.2-.5 2.6-.9 2.2-1.3 2.2-1.8 2-2.1 1.9-2.6 1.3-2.5 1-2.9 .5-2.4 .3-2.7-.1-2.8-.5-3-.8-3.2-1.2-3.2-1.7-3.3-2.1-3.4-1.9-2.5-2.8-3.3-3.1-3.2-3.4-3.1-3.5-2.9-3.6-2.6-4.4-2.8-3.5-1.9-3.9-1.8-2.9-.9-3.1-.5-2.6 .1-1.9 .7-1.5 1.4-.9 1.8-.5 2.8 .1 3.3 .7 4.9 1.3 5.3 2 6.1 2.5 6.6 2.7 6.2 3.1 6.2 2.8 5 3 4.2 2 2.5 2.1 2.1 2.2 1.7 1.9 1.1 2.3 .9 2 .4 2.1 .1 2.1-.3 2.5-.8 2.2-1.2 2.1-1.6 2-1.9 1.8-2.5 1.4-2.3 1-2.7 .6-2.3 .4-3.2 0-2.7-.4-2.9-.8-3-1.1-3.2-1.6-3.2-1.9-3.2-1.8-2.5-2.6-3.2-3-3.2-3.2-3-3.3-2.8-3.5-2.6-4.3-2.8-3.3-1.9-3.9-1.8-2.9-1-3.1-.6-2.5 0-2 .6-1.5 1.2-1 1.7-.6 2.7 0 3.1 .5 4.1 1.1 5.1 1.8 5.9 2.4 6.5 2.6 6.2 2.7 5.6 2.8 5.1 2.9 4.3 2 2.6 2.1 2.2 2.1 1.8 1.9 1.3 2.2 1 1.9 .6 2 .2 2.1-.2 2.5-.6 2.1-1 2-1.3 2.1-1.8 1.8-2.2 1.4-2.2 1.1-2.4 .9-2.8 .4-3 .1-2.6-.3-2.8-.6-2.9-1-3-1.3-3.1-3.4-5.6-2.4-3.1-2.8-3.1-3-3-3.2-2.8-3.3-2.6-4.2-2.9-3.3-2-3.9-1.9-2.8-1.1-3.2-.9-2.6-.2-2.2 .5-1.6 1-1.1 1.5-.7 2.4-.2 3 .4 3.9 .9 4.9 1.7 5.7 2 5.8 2.5 6.1 2.7 5.7 2.8 5.1 2.8 4.5 2 2.6 2 2.4 2 1.9 1.9 1.3 2.1 1.2 1.9 .6 2 .4 2 0 2.4-.5 2.1-.8 2-1.2 2-1.6 1.9-2 1.4-2 1.2-2.3 .9-2.6 .6-2.8 .2-2.5-.1-2.6-.4-2.8-.8-2.9-1.1-3-1.5-3.1-2-3.1-2.2-3.1-2.6-3-2.9-2.9-3-2.9-3.2-2.6-4.1-2.9-3.2-2-3.8-2-3.5-1.5-3.1-.8-2.7-.2-2.1 .4-1.6 .9-1.1 1.5-.7 1.9-.3 2.7 .2 3.8 .8 4.1 1.3 5 1.8 5.7 2.4 6.1 2.6 5.7 2.7 5.3 2.7 4.6 4 5.2 2 2.1 1.8 1.4 2.1 1.4 1.8 .8 2 .5 1.9 .1 2.3-.2 2.1-.6 2-1 2-1.4 1.8-1.8 1.8-2.2 1.2-2.1 1-2.4 .7-2.7 .4-2.4 0-3.1-.4-2.7-.7-2.8-1-3-1.4-2.9-1.8-3.1-2.1-3-2.5-3-2.7-2.9-2.9-2.8-3.1-2.6-4-2.9-3.1-2.1-3.8-2-3.5-1.6-3.1-.9-2.7-.4-2.1 .3-1.7 .8-1.2 1.3-.8 1.8-.4 2.6 .1 3.6 .7 4 1.2 4.9 1.5 4.9 2.1 5.5 2.5 5.8 2.6 5.3 2.7 4.7 3.9 5.5 1.9 2.2 1.8 1.6 2.1 1.5 1.8 .9 1.8 .7 1.9 .3 2.3-.1 2-.4 2.3-1 2-1.2 1.9-1.7 1.7-2 1.3-2 1-2.3 .8-2.6 .5-2.8 .1-3.1-.3-2.6-.6-2.7-1-2.9-1.3-2.9-1.7-3-2-3-2.4-2.9-2.6-2.9-2.8-2.7-3-2.6-3.8-2.9-3.1-2.1-3.8-2.1-3.4-1.6-3.1-1-2.7-.5-2.2 .2-1.8 .7-1.2 1.2-.9 1.7-.5 2.5 0 2.9 .5 3.9 1.1 4.7 1.5 4.9 1.9 5.4 2.4 5.8 2.6 5.3 2.4 4.3 3.8 5.7 3.7 4 2 1.6 1.8 1.1 2.1 .9 1.9 .4 2.3 0 1.9-.3 2.3-.9 1.9-1.1 1.9-1.5 1.7-1.9 1.3-1.9 1.1-2.2 .9-2.4 .6-2.8 .1-2.9-.1-2.5-.5-2.7-.8-2.8-1.2-2.8-1.5-2.9-1.9-2.9-2.1-3-2.5-2.8-2.7-2.8-2.9-2.6-3.7-3-3-2.1-3.7-2.2-3.5-1.8-3.2-1.1-2.8-.6-2.3-.1-1.9 .5-1.4 1.1-.9 1.5-.7 2.3-.1 2.8 .3 3.7 .9 4 1.3 4.7 1.6 4.8 2.1 5.3 2.2 4.9 2.6 5.1 3.7 6 1.9 2.5 2 2.2 2 1.8 1.7 1.2 2.1 1.1 1.8 .5 2.2 .3 2-.1 2.2-.6 1.9-.9 1.9-1.3 1.8-1.7 1.6-2 1.2-2 1-2.3 .7-2.6 .3-2.8 0-2.4-.4-3.2-.7-2.7-1.1-2.8-1.3-2.8-1.7-2.9-2.1-2.9-2.3-2.8-2.5-2.8-2.8-2.6-3.6-3-3-2.2-3.7-2.3-2.8-1.5-3.3-1.5-2.9-.9-2.5-.3-2.1 .3-1.6 .8-1.1 1.2-.9 2.1-.3 2.5 .1 3 .5 3.8 1 4 1.4 4.8 2 5.3 2.1 5 2.2 4.7 3.7 6.5 3.8 5.1 1.9 2.1 2 1.7 2.1 1.3 1.8 .8 2.1 .5 2.2 .1 2.2-.4 1.9-.7 2.2-1.2 1.8-1.6 1.7-1.8 1.2-1.9 1.3-2.6 .7-2.5 .4-2.7 .1-2.3-.3-3.1-.6-2.7-.9-2.7-1.3-2.8-1.6-2.8-1.9-2.8-2.2-2.9-2.4-2.7-2.7-2.6-3.5-3.1-2.9-2.2-3.6-2.4-3.5-2-3.3-1.4-2.9-.9-2.5-.3-2 .2-1.6 .7-1.2 1.2-.8 1.6-.5 2.5 0 2.8 .4 3.2 .8 3.9 1.2 4.1 1.6 4.6 3.9 9.5 3.8 7.2 2.2 3.3 1.8 2.6 2 2.2 1.9 1.8 2 1.5 1.8 .9 2.1 .8 2.1 .3 2.2-.2 1.9-.5 2.2-1.1 1.8-1.3 1.7-1.6 1.6-2.1 1.3-2.4 .8-2.4 .6-2.5 .2-2.3-.2-3-.4-2.5-.7-2.6-1.1-2.8-1.4-2.7-1.7-2.8-2-2.8-2.9-3.5-5.3-5.1-2.8-2.3-3.6-2.5-2.8-1.7-3.4-1.8-3-1.2-2.8-.7-1.9-.1-1.9 .2-1.6 .8-1.1 1.3-.7 1.7-.4 2.4 .1 2.9 .4 3.1 .8 3.9 1.2 4.1 3.4 9.1 3.9 8.3 3.9 6.5 2.1 2.8 1.9 2.2 2 1.8 2 1.4 2 1 2.1 .6 2.2 .1 2.1-.3 2.2-.7 1.9-1.1 2-1.6 1.6-1.9 1.5-2.2 .9-2.2 .7-2.4 .4-2.6 0-2.9-.2-2.5-.6-2.5-.9-2.7-1.6-3.4-1.6-2.8-1.9-2.7-2.2-2.7-5-5.2-2.8-2.4-3.5-2.6-2.8-1.9-3.4-1.9-3.1-1.4-2.9-.9-2-.4-2.1 .1-1.7 .6-1.3 1.1-.8 1.5-.5 1.8-.2 2.2 .2 2.9 .5 3.2 .9 3.9 2.6 8 3.7 8.6 4 7.5 2.1 3.2 1.9 2.4 2.2 2.4 2 1.6 2.2 1.4 2.1 .9 2.1 .4 2.1-.1 2.2-.5 2.2-.9 2-1.5 1.7-1.6 1.5-2.1 1.1-2 .8-2.2 .6-2.5 .2-2.7-.1-2.3-.5-3.1-.7-2.6-1.4-3.4-1.4-2.7-1.8-2.7-2-2.7-4.8-5.3-2.6-2.4-3.5-2.7-2.8-2-3.4-2-2.6-1.4-3-1.1-2.1-.6-2.3-.3-1.6 .2-1.6 .7-1.2 1.2-.8 1.5-.4 1.9-.1 2.2 .2 3 .6 3.1 1.9 7.3 3.4 8.9 4.2 8.5 2 3.4 2.1 3 2.2 2.6 2.2 2.2 2.2 1.6 2 1.1 2.1 .6 2.1 .2 2.2-.2 2.1-.7 2.1-1.2 2-1.7 1.6-1.8 1.3-2.3 1.1-2.5 .6-2.5 .3-2.6-.1-2.3-.4-3.1-.7-2.5-1-2.6-1.2-2.7-1.6-2.7-1.9-2.7-4.6-5.3-2.5-2.4-3.4-2.9-5.5-3.8-2.6-1.5-3.1-1.5-2.3-.8-2.5-.5-1.8 0-1.8 .4-1.1 .6-1.1 1.3-.7 1.6-.4 1.9 0 2.3 .3 2.9 1.4 6.5 1.4 4.5 1.6 4.5 2.1 4.8 2.1 4.5 2.3 4.1 2.1 3.2 2.1 2.8 2.1 2.3 2.3 1.9 1.9 1.2 2.4 .9 2.1 .4 2.1-.1 2.1-.5 2.1-1 2-1.4 1.7-1.7 1.4-2 1.2-2.5 .7-2.2 .5-2.6 .1-2.1-.2-3-.5-2.4-1-3.2-1.2-2.7-1.4-2.6-1.8-2.7-4.3-5.3-2.4-2.4-3.3-3-3.4-2.6-3.3-2.2-3.3-1.8-3-1.3-2.7-.8-2.3-.3-2 .2-1.5 .8-1.1 1.1-.9 1.9-.3 2 0 2.7 .3 3 .8 3.7 1.2 4.4 1.5 4.5" stroke="#0072BD" stroke-width="1.0" fill="none" stroke-linejoin="round"/><path d="M571.5 638.5l36.6-65.5" stroke="#FF0000" stroke-width="1.0" fill="none" stroke-dasharray="5.5 3.2"/></g>
<path d="M508.7 691L663.5 634.2M508.7 691L388.5 617.5M388.5 617.5L388.5 457.7M508.7 691L511.7 692.84M539.66 679.64L542.66 681.48M570.62 668.28L573.62 670.12M601.58 656.92L604.59 658.76M632.54 645.56L635.54 647.4M663.5 634.2L666.5 636.04M508.7 691L504.68 692.48M478.65 672.62L474.63 674.1M448.6 654.25L444.58 655.73M418.55 635.88L414.53 637.35M388.5 617.5L384.48 618.98M388.5 617.5L384.48 618.98M388.5 585.54L384.48 587.02M388.5 553.58L384.48 555.06M388.5 521.62L384.48 523.1M388.5 489.66L384.48 491.14M388.5 457.7L384.48 459.18" stroke="#262626" stroke-width="1.1" fill="none"/>
<text transform="translate(514.7,707.6) scale(0.785,1)" font-family="'Liberation Sans', sans-serif" font-size="10.8" text-anchor="start" fill="#262626">0</text>
<text transform="translate(545.66,696.24) scale(0.785,1)" font-family="'Liberation Sans', sans-serif" font-size="10.8" text-anchor="start" fill="#262626">100</text>
<text transform="translate(576.62,684.88) scale(0.785,1)" font-family="'Liberation Sans', sans-serif" font-size="10.8" text-anchor="start" fill="#262626">200</text>
<text transform="translate(607.58,673.52) scale(0.785,1)" font-family="'Liberation Sans', sans-serif" font-size="10.8" text-anchor="start" fill="#262626">300</text>
<text transform="translate(638.54,662.16) scale(0.785,1)" font-family="'Liberation Sans', sans-serif" font-size="10.8" text-anchor="start" fill="#262626">400</text>
<text transform="translate(669.5,650.8) scale(0.785,1)" font-family="'Liberation Sans', sans-serif" font-size="10.8" text-anchor="start" fill="#262626">500</text>
<text transform="translate(500.7,705.8) scale(0.785,1)" font-family="'Liberation Sans', sans-serif" font-size="10.8" text-anchor="end" fill="#262626">0</text>
<text transform="translate(470.65,687.42) scale(0.785,1)" font-family="'Liberation Sans', sans-serif" font-size="10.8" text-anchor="end" fill="#262626">200</text>
<text transform="translate(440.6,669.05) scale(0.785,1)" font-family="'Liberation Sans', sans-serif" font-size="10.8" text-anchor="end" fill="#262626">400</text>
<text transform="translate(410.55,650.67) scale(0.785,1)" font-family="'Liberation Sans', sans-serif" font-size="10.8" text-anchor="end" fill="#262626">600</text>
<text transform="translate(380.5,632.3) scale(0.785,1)" font-family="'Liberation Sans', sans-serif" font-size="10.8" text-anchor="end" fill="#262626">800</text>
<text transform="translate(381.7,618.9) scale(0.785,1)" font-family="'Liberation Sans', sans-serif" font-size="10.8" text-anchor="end" fill="#262626">0</text>
<text transform="translate(381.7,586.94) scale(0.785,1)" font-family="'Liberation Sans', sans-serif" font-size="10.8" text-anchor="end" fill="#262626">2</text>
<text transform="translate(381.7,554.98) scale(0.785,1)" font-family="'Liberation Sans', sans-serif" font-size="10.8" text-anchor="end" fill="#262626">4</text>
<text transform="translate(381.7,523.02) scale(0.785,1)" font-family="'Liberation Sans', sans-serif" font-size="10.8" text-anchor="end" fill="#262626">6</text>
<text transform="translate(381.7,491.06) scale(0.785,1)" font-family="'Liberation Sans', sans-serif" font-size="10.8" text-anchor="end" fill="#262626">8</text>
<text transform="translate(381.7,459.1) scale(0.785,1)" font-family="'Liberation Sans', sans-serif" font-size="10.8" text-anchor="end" fill="#262626">10</text>
<text transform="translate(605.5,709.3) scale(0.74,1)" font-family="'Liberation Sans', sans-serif" font-size="12.75" text-anchor="middle" fill="#262626">Healthy T-cells</text>
<text transform="translate(417.6,705.1) scale(0.74,1)" font-family="'Liberation Sans', sans-serif" font-size="12.75" text-anchor="middle" fill="#262626">Infected T-cells</text>
<text transform="translate(367.4,537.3) scale(0.74,1) rotate(-90)" font-family="'Liberation Sans', sans-serif" font-size="12.75" text-anchor="middle" fill="#262626">Free HIV virus particle</text>
<text transform="translate(516.7,749.5) scale(0.885,1)" font-family="'Liberation Serif', serif" font-size="14.5" text-anchor="middle" fill="#000">(d)</text>
<text transform="translate(368.8,439.7) scale(0.785,1)" font-family="'Liberation Sans', sans-serif" font-size="10.8" text-anchor="start" fill="#262626">&#215;10<tspan font-size="8.6" dx="0.6" dy="-5">4</tspan></text>
</svg></body></html>
